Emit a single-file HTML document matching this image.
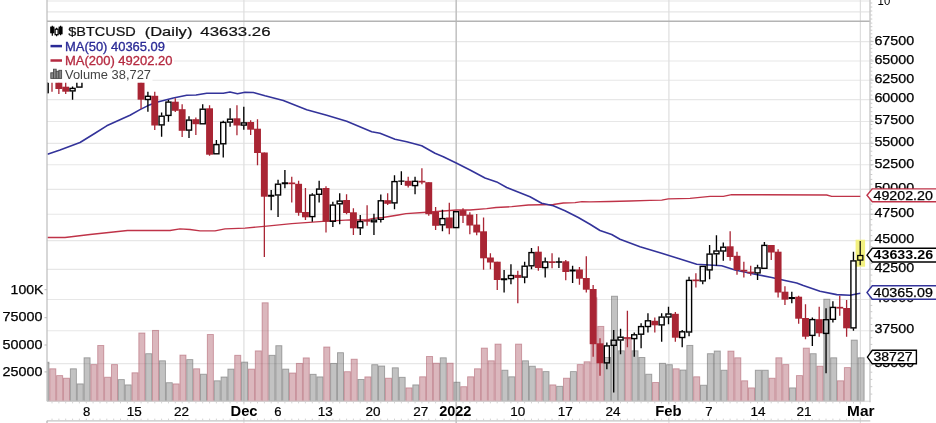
<!DOCTYPE html>
<html><head><meta charset="utf-8"><title>$BTCUSD</title><style>html,body{margin:0;padding:0;background:#fff}body{width:936px;height:423px;overflow:hidden}</style></head><body>
<svg width="936" height="423" viewBox="0 0 936 423" style="display:block;filter:blur(0.3px);font-family:'Liberation Sans',sans-serif">
<defs><clipPath id="cp"><rect x="47" y="82.5" width="823" height="325"/></clipPath><clipPath id="vp"><rect x="47" y="22" width="823" height="380"/></clipPath></defs>
<rect width="936" height="423" fill="#fff"/>
<line x1="47" x2="870.3" y1="1" y2="1" stroke="#e6e6e6" stroke-width="1.2"/>
<line x1="47" x2="870.3" y1="11.8" y2="11.8" stroke="#e6e6e6" stroke-width="1.2"/>
<line x1="47" x2="870.3" y1="41.6" y2="41.6" stroke="#e7e7e7" stroke-width="1.15"/>
<line x1="47" x2="870.3" y1="61.0" y2="61.0" stroke="#e7e7e7" stroke-width="1.15"/>
<line x1="47" x2="870.3" y1="80.2" y2="80.2" stroke="#e7e7e7" stroke-width="1.15"/>
<line x1="47" x2="870.3" y1="99.6" y2="99.6" stroke="#e7e7e7" stroke-width="1.15"/>
<line x1="47" x2="870.3" y1="121.5" y2="121.5" stroke="#e7e7e7" stroke-width="1.15"/>
<line x1="47" x2="870.3" y1="143.3" y2="143.3" stroke="#e7e7e7" stroke-width="1.15"/>
<line x1="47" x2="870.3" y1="164.7" y2="164.7" stroke="#e7e7e7" stroke-width="1.15"/>
<line x1="47" x2="870.3" y1="189.3" y2="189.3" stroke="#e7e7e7" stroke-width="1.15"/>
<line x1="47" x2="870.3" y1="214.2" y2="214.2" stroke="#e7e7e7" stroke-width="1.15"/>
<line x1="47" x2="870.3" y1="240.6" y2="240.6" stroke="#e7e7e7" stroke-width="1.15"/>
<line x1="47" x2="870.3" y1="269.3" y2="269.3" stroke="#e7e7e7" stroke-width="1.15"/>
<line x1="47" x2="870.3" y1="299.5" y2="299.5" stroke="#e7e7e7" stroke-width="1.15"/>
<line x1="47" x2="870.3" y1="330.7" y2="330.7" stroke="#e7e7e7" stroke-width="1.15"/>
<line x1="47" x2="870.3" y1="363.6" y2="363.6" stroke="#e7e7e7" stroke-width="1.15"/>
<line x1="243.9" x2="243.9" y1="0" y2="404.5" stroke="#dedede" stroke-width="1.2"/>
<line x1="243.9" x2="243.9" y1="417.5" y2="423" stroke="#dedede" stroke-width="1.2"/>
<line x1="456.2" x2="456.2" y1="0" y2="423" stroke="#c4c4c4" stroke-width="1.6"/>
<line x1="668.9" x2="668.9" y1="0" y2="404.5" stroke="#dedede" stroke-width="1.2"/>
<line x1="668.9" x2="668.9" y1="417.5" y2="423" stroke="#dedede" stroke-width="1.2"/>
<line x1="860.4" x2="860.4" y1="0" y2="404.5" stroke="#dedede" stroke-width="1.2"/>
<line x1="860.4" x2="860.4" y1="417.5" y2="423" stroke="#dedede" stroke-width="1.2"/>
<g clip-path="url(#vp)">
<rect x="42.93" y="362.2" width="6.05" height="39.0" fill="rgba(125,125,125,0.47)" stroke="rgba(90,90,90,0.5)" stroke-width="0.9"/>
<rect x="49.78" y="368.8" width="6.05" height="32.4" fill="rgba(184,112,124,0.5)" stroke="rgba(165,75,92,0.5)" stroke-width="0.9"/>
<rect x="56.63" y="375.6" width="6.05" height="25.6" fill="rgba(184,112,124,0.5)" stroke="rgba(165,75,92,0.5)" stroke-width="0.9"/>
<rect x="63.48" y="378.2" width="6.05" height="23.0" fill="rgba(184,112,124,0.5)" stroke="rgba(165,75,92,0.5)" stroke-width="0.9"/>
<rect x="70.33" y="368.8" width="6.05" height="32.4" fill="rgba(125,125,125,0.47)" stroke="rgba(90,90,90,0.5)" stroke-width="0.9"/>
<rect x="77.18" y="383.9" width="6.05" height="17.3" fill="rgba(125,125,125,0.47)" stroke="rgba(90,90,90,0.5)" stroke-width="0.9"/>
<rect x="84.03" y="357.8" width="6.05" height="43.4" fill="rgba(125,125,125,0.47)" stroke="rgba(90,90,90,0.5)" stroke-width="0.9"/>
<rect x="90.88" y="364.6" width="6.05" height="36.6" fill="rgba(184,112,124,0.5)" stroke="rgba(165,75,92,0.5)" stroke-width="0.9"/>
<rect x="97.73" y="345.5" width="6.05" height="55.7" fill="rgba(184,112,124,0.5)" stroke="rgba(165,75,92,0.5)" stroke-width="0.9"/>
<rect x="104.58" y="377.2" width="6.05" height="24.0" fill="rgba(184,112,124,0.5)" stroke="rgba(165,75,92,0.5)" stroke-width="0.9"/>
<rect x="111.43" y="364.6" width="6.05" height="36.6" fill="rgba(184,112,124,0.5)" stroke="rgba(165,75,92,0.5)" stroke-width="0.9"/>
<rect x="118.28" y="379.6" width="6.05" height="21.6" fill="rgba(125,125,125,0.47)" stroke="rgba(90,90,90,0.5)" stroke-width="0.9"/>
<rect x="125.13" y="384.9" width="6.05" height="16.3" fill="rgba(125,125,125,0.47)" stroke="rgba(90,90,90,0.5)" stroke-width="0.9"/>
<rect x="131.98" y="372.8" width="6.05" height="28.4" fill="rgba(184,112,124,0.5)" stroke="rgba(165,75,92,0.5)" stroke-width="0.9"/>
<rect x="138.83" y="333.0" width="6.05" height="68.2" fill="rgba(184,112,124,0.5)" stroke="rgba(165,75,92,0.5)" stroke-width="0.9"/>
<rect x="145.68" y="353.7" width="6.05" height="47.5" fill="rgba(125,125,125,0.47)" stroke="rgba(90,90,90,0.5)" stroke-width="0.9"/>
<rect x="152.53" y="330.4" width="6.05" height="70.8" fill="rgba(184,112,124,0.5)" stroke="rgba(165,75,92,0.5)" stroke-width="0.9"/>
<rect x="159.38" y="360.8" width="6.05" height="40.4" fill="rgba(125,125,125,0.47)" stroke="rgba(90,90,90,0.5)" stroke-width="0.9"/>
<rect x="166.23" y="382.7" width="6.05" height="18.5" fill="rgba(125,125,125,0.47)" stroke="rgba(90,90,90,0.5)" stroke-width="0.9"/>
<rect x="173.08" y="383.9" width="6.05" height="17.3" fill="rgba(184,112,124,0.5)" stroke="rgba(165,75,92,0.5)" stroke-width="0.9"/>
<rect x="179.93" y="355.1" width="6.05" height="46.1" fill="rgba(184,112,124,0.5)" stroke="rgba(165,75,92,0.5)" stroke-width="0.9"/>
<rect x="186.78" y="359.6" width="6.05" height="41.6" fill="rgba(125,125,125,0.47)" stroke="rgba(90,90,90,0.5)" stroke-width="0.9"/>
<rect x="193.63" y="368.8" width="6.05" height="32.4" fill="rgba(184,112,124,0.5)" stroke="rgba(165,75,92,0.5)" stroke-width="0.9"/>
<rect x="200.48" y="374.2" width="6.05" height="27.0" fill="rgba(125,125,125,0.47)" stroke="rgba(90,90,90,0.5)" stroke-width="0.9"/>
<rect x="207.33" y="334.5" width="6.05" height="66.7" fill="rgba(184,112,124,0.5)" stroke="rgba(165,75,92,0.5)" stroke-width="0.9"/>
<rect x="214.18" y="380.8" width="6.05" height="20.4" fill="rgba(125,125,125,0.47)" stroke="rgba(90,90,90,0.5)" stroke-width="0.9"/>
<rect x="221.03" y="377.0" width="6.05" height="24.2" fill="rgba(125,125,125,0.47)" stroke="rgba(90,90,90,0.5)" stroke-width="0.9"/>
<rect x="227.88" y="369.1" width="6.05" height="32.1" fill="rgba(125,125,125,0.47)" stroke="rgba(90,90,90,0.5)" stroke-width="0.9"/>
<rect x="234.73" y="355.3" width="6.05" height="45.9" fill="rgba(184,112,124,0.5)" stroke="rgba(165,75,92,0.5)" stroke-width="0.9"/>
<rect x="241.58" y="362.1" width="6.05" height="39.1" fill="rgba(125,125,125,0.47)" stroke="rgba(90,90,90,0.5)" stroke-width="0.9"/>
<rect x="248.43" y="369.1" width="6.05" height="32.1" fill="rgba(184,112,124,0.5)" stroke="rgba(165,75,92,0.5)" stroke-width="0.9"/>
<rect x="255.28" y="350.9" width="6.05" height="50.3" fill="rgba(184,112,124,0.5)" stroke="rgba(165,75,92,0.5)" stroke-width="0.9"/>
<rect x="262.12" y="302.8" width="6.05" height="98.4" fill="rgba(184,112,124,0.5)" stroke="rgba(165,75,92,0.5)" stroke-width="0.9"/>
<rect x="268.97" y="355.3" width="6.05" height="45.9" fill="rgba(125,125,125,0.47)" stroke="rgba(90,90,90,0.5)" stroke-width="0.9"/>
<rect x="275.82" y="345.7" width="6.05" height="55.5" fill="rgba(125,125,125,0.47)" stroke="rgba(90,90,90,0.5)" stroke-width="0.9"/>
<rect x="282.67" y="369.1" width="6.05" height="32.1" fill="rgba(125,125,125,0.47)" stroke="rgba(90,90,90,0.5)" stroke-width="0.9"/>
<rect x="289.52" y="373.0" width="6.05" height="28.2" fill="rgba(184,112,124,0.5)" stroke="rgba(165,75,92,0.5)" stroke-width="0.9"/>
<rect x="296.38" y="363.4" width="6.05" height="37.8" fill="rgba(184,112,124,0.5)" stroke="rgba(165,75,92,0.5)" stroke-width="0.9"/>
<rect x="303.22" y="357.9" width="6.05" height="43.3" fill="rgba(184,112,124,0.5)" stroke="rgba(165,75,92,0.5)" stroke-width="0.9"/>
<rect x="310.07" y="374.3" width="6.05" height="26.9" fill="rgba(125,125,125,0.47)" stroke="rgba(90,90,90,0.5)" stroke-width="0.9"/>
<rect x="316.92" y="376.9" width="6.05" height="24.3" fill="rgba(125,125,125,0.47)" stroke="rgba(90,90,90,0.5)" stroke-width="0.9"/>
<rect x="323.77" y="347.0" width="6.05" height="54.2" fill="rgba(184,112,124,0.5)" stroke="rgba(165,75,92,0.5)" stroke-width="0.9"/>
<rect x="330.62" y="363.4" width="6.05" height="37.8" fill="rgba(125,125,125,0.47)" stroke="rgba(90,90,90,0.5)" stroke-width="0.9"/>
<rect x="337.47" y="352.7" width="6.05" height="48.5" fill="rgba(125,125,125,0.47)" stroke="rgba(90,90,90,0.5)" stroke-width="0.9"/>
<rect x="344.32" y="371.7" width="6.05" height="29.5" fill="rgba(184,112,124,0.5)" stroke="rgba(165,75,92,0.5)" stroke-width="0.9"/>
<rect x="351.17" y="359.2" width="6.05" height="42.0" fill="rgba(184,112,124,0.5)" stroke="rgba(165,75,92,0.5)" stroke-width="0.9"/>
<rect x="358.02" y="379.5" width="6.05" height="21.7" fill="rgba(125,125,125,0.47)" stroke="rgba(90,90,90,0.5)" stroke-width="0.9"/>
<rect x="364.88" y="376.9" width="6.05" height="24.3" fill="rgba(184,112,124,0.5)" stroke="rgba(165,75,92,0.5)" stroke-width="0.9"/>
<rect x="371.73" y="364.7" width="6.05" height="36.5" fill="rgba(125,125,125,0.47)" stroke="rgba(90,90,90,0.5)" stroke-width="0.9"/>
<rect x="378.57" y="366.0" width="6.05" height="35.2" fill="rgba(125,125,125,0.47)" stroke="rgba(90,90,90,0.5)" stroke-width="0.9"/>
<rect x="385.42" y="378.2" width="6.05" height="23.0" fill="rgba(184,112,124,0.5)" stroke="rgba(165,75,92,0.5)" stroke-width="0.9"/>
<rect x="392.27" y="367.8" width="6.05" height="33.4" fill="rgba(125,125,125,0.47)" stroke="rgba(90,90,90,0.5)" stroke-width="0.9"/>
<rect x="399.12" y="377.3" width="6.05" height="23.9" fill="rgba(125,125,125,0.47)" stroke="rgba(90,90,90,0.5)" stroke-width="0.9"/>
<rect x="405.97" y="387.9" width="6.05" height="13.3" fill="rgba(184,112,124,0.5)" stroke="rgba(165,75,92,0.5)" stroke-width="0.9"/>
<rect x="412.82" y="384.9" width="6.05" height="16.3" fill="rgba(125,125,125,0.47)" stroke="rgba(90,90,90,0.5)" stroke-width="0.9"/>
<rect x="419.67" y="376.8" width="6.05" height="24.4" fill="rgba(184,112,124,0.5)" stroke="rgba(165,75,92,0.5)" stroke-width="0.9"/>
<rect x="426.52" y="356.5" width="6.05" height="44.7" fill="rgba(184,112,124,0.5)" stroke="rgba(165,75,92,0.5)" stroke-width="0.9"/>
<rect x="433.38" y="363.2" width="6.05" height="38.0" fill="rgba(184,112,124,0.5)" stroke="rgba(165,75,92,0.5)" stroke-width="0.9"/>
<rect x="440.22" y="357.8" width="6.05" height="43.4" fill="rgba(125,125,125,0.47)" stroke="rgba(90,90,90,0.5)" stroke-width="0.9"/>
<rect x="447.07" y="363.2" width="6.05" height="38.0" fill="rgba(184,112,124,0.5)" stroke="rgba(165,75,92,0.5)" stroke-width="0.9"/>
<rect x="453.92" y="382.2" width="6.05" height="19.0" fill="rgba(125,125,125,0.47)" stroke="rgba(90,90,90,0.5)" stroke-width="0.9"/>
<rect x="460.77" y="386.7" width="6.05" height="14.5" fill="rgba(184,112,124,0.5)" stroke="rgba(165,75,92,0.5)" stroke-width="0.9"/>
<rect x="467.62" y="376.8" width="6.05" height="24.4" fill="rgba(184,112,124,0.5)" stroke="rgba(165,75,92,0.5)" stroke-width="0.9"/>
<rect x="474.47" y="368.8" width="6.05" height="32.4" fill="rgba(184,112,124,0.5)" stroke="rgba(165,75,92,0.5)" stroke-width="0.9"/>
<rect x="481.32" y="348.1" width="6.05" height="53.1" fill="rgba(184,112,124,0.5)" stroke="rgba(165,75,92,0.5)" stroke-width="0.9"/>
<rect x="488.17" y="360.8" width="6.05" height="40.4" fill="rgba(184,112,124,0.5)" stroke="rgba(165,75,92,0.5)" stroke-width="0.9"/>
<rect x="495.02" y="344.1" width="6.05" height="57.1" fill="rgba(184,112,124,0.5)" stroke="rgba(165,75,92,0.5)" stroke-width="0.9"/>
<rect x="501.88" y="370.2" width="6.05" height="31.0" fill="rgba(125,125,125,0.47)" stroke="rgba(90,90,90,0.5)" stroke-width="0.9"/>
<rect x="508.72" y="376.8" width="6.05" height="24.4" fill="rgba(125,125,125,0.47)" stroke="rgba(90,90,90,0.5)" stroke-width="0.9"/>
<rect x="515.57" y="344.1" width="6.05" height="57.1" fill="rgba(184,112,124,0.5)" stroke="rgba(165,75,92,0.5)" stroke-width="0.9"/>
<rect x="522.42" y="360.8" width="6.05" height="40.4" fill="rgba(125,125,125,0.47)" stroke="rgba(90,90,90,0.5)" stroke-width="0.9"/>
<rect x="529.27" y="366.2" width="6.05" height="35.0" fill="rgba(125,125,125,0.47)" stroke="rgba(90,90,90,0.5)" stroke-width="0.9"/>
<rect x="536.12" y="368.8" width="6.05" height="32.4" fill="rgba(184,112,124,0.5)" stroke="rgba(165,75,92,0.5)" stroke-width="0.9"/>
<rect x="542.98" y="371.6" width="6.05" height="29.6" fill="rgba(125,125,125,0.47)" stroke="rgba(90,90,90,0.5)" stroke-width="0.9"/>
<rect x="549.82" y="384.9" width="6.05" height="16.3" fill="rgba(184,112,124,0.5)" stroke="rgba(165,75,92,0.5)" stroke-width="0.9"/>
<rect x="556.67" y="386.3" width="6.05" height="14.9" fill="rgba(125,125,125,0.47)" stroke="rgba(90,90,90,0.5)" stroke-width="0.9"/>
<rect x="563.52" y="378.2" width="6.05" height="23.0" fill="rgba(184,112,124,0.5)" stroke="rgba(165,75,92,0.5)" stroke-width="0.9"/>
<rect x="570.37" y="371.6" width="6.05" height="29.6" fill="rgba(125,125,125,0.47)" stroke="rgba(90,90,90,0.5)" stroke-width="0.9"/>
<rect x="577.23" y="364.6" width="6.05" height="36.6" fill="rgba(184,112,124,0.5)" stroke="rgba(165,75,92,0.5)" stroke-width="0.9"/>
<rect x="584.07" y="361.8" width="6.05" height="39.4" fill="rgba(184,112,124,0.5)" stroke="rgba(165,75,92,0.5)" stroke-width="0.9"/>
<rect x="590.92" y="297.8" width="6.05" height="103.4" fill="rgba(184,112,124,0.5)" stroke="rgba(165,75,92,0.5)" stroke-width="0.9"/>
<rect x="597.77" y="326.4" width="6.05" height="74.8" fill="rgba(184,112,124,0.5)" stroke="rgba(165,75,92,0.5)" stroke-width="0.9"/>
<rect x="604.62" y="357.5" width="6.05" height="43.7" fill="rgba(125,125,125,0.47)" stroke="rgba(90,90,90,0.5)" stroke-width="0.9"/>
<rect x="611.48" y="296.2" width="6.05" height="105.0" fill="rgba(125,125,125,0.47)" stroke="rgba(90,90,90,0.5)" stroke-width="0.9"/>
<rect x="618.32" y="350.8" width="6.05" height="50.4" fill="rgba(125,125,125,0.47)" stroke="rgba(90,90,90,0.5)" stroke-width="0.9"/>
<rect x="625.17" y="339.0" width="6.05" height="62.2" fill="rgba(184,112,124,0.5)" stroke="rgba(165,75,92,0.5)" stroke-width="0.9"/>
<rect x="632.02" y="350.8" width="6.05" height="50.4" fill="rgba(125,125,125,0.47)" stroke="rgba(90,90,90,0.5)" stroke-width="0.9"/>
<rect x="638.87" y="357.5" width="6.05" height="43.7" fill="rgba(125,125,125,0.47)" stroke="rgba(90,90,90,0.5)" stroke-width="0.9"/>
<rect x="645.73" y="374.2" width="6.05" height="27.0" fill="rgba(125,125,125,0.47)" stroke="rgba(90,90,90,0.5)" stroke-width="0.9"/>
<rect x="652.57" y="382.5" width="6.05" height="18.7" fill="rgba(184,112,124,0.5)" stroke="rgba(165,75,92,0.5)" stroke-width="0.9"/>
<rect x="659.42" y="363.3" width="6.05" height="37.9" fill="rgba(125,125,125,0.47)" stroke="rgba(90,90,90,0.5)" stroke-width="0.9"/>
<rect x="666.27" y="364.7" width="6.05" height="36.5" fill="rgba(125,125,125,0.47)" stroke="rgba(90,90,90,0.5)" stroke-width="0.9"/>
<rect x="673.12" y="368.8" width="6.05" height="32.4" fill="rgba(184,112,124,0.5)" stroke="rgba(165,75,92,0.5)" stroke-width="0.9"/>
<rect x="679.98" y="370.0" width="6.05" height="31.2" fill="rgba(125,125,125,0.47)" stroke="rgba(90,90,90,0.5)" stroke-width="0.9"/>
<rect x="686.82" y="345.4" width="6.05" height="55.8" fill="rgba(125,125,125,0.47)" stroke="rgba(90,90,90,0.5)" stroke-width="0.9"/>
<rect x="693.67" y="376.8" width="6.05" height="24.4" fill="rgba(184,112,124,0.5)" stroke="rgba(165,75,92,0.5)" stroke-width="0.9"/>
<rect x="700.52" y="385.2" width="6.05" height="16.0" fill="rgba(125,125,125,0.47)" stroke="rgba(90,90,90,0.5)" stroke-width="0.9"/>
<rect x="707.37" y="353.7" width="6.05" height="47.5" fill="rgba(125,125,125,0.47)" stroke="rgba(90,90,90,0.5)" stroke-width="0.9"/>
<rect x="714.23" y="351.0" width="6.05" height="50.2" fill="rgba(125,125,125,0.47)" stroke="rgba(90,90,90,0.5)" stroke-width="0.9"/>
<rect x="721.07" y="370.2" width="6.05" height="31.0" fill="rgba(125,125,125,0.47)" stroke="rgba(90,90,90,0.5)" stroke-width="0.9"/>
<rect x="727.92" y="351.1" width="6.05" height="50.1" fill="rgba(184,112,124,0.5)" stroke="rgba(165,75,92,0.5)" stroke-width="0.9"/>
<rect x="734.77" y="357.8" width="6.05" height="43.4" fill="rgba(184,112,124,0.5)" stroke="rgba(165,75,92,0.5)" stroke-width="0.9"/>
<rect x="741.62" y="380.8" width="6.05" height="20.4" fill="rgba(184,112,124,0.5)" stroke="rgba(165,75,92,0.5)" stroke-width="0.9"/>
<rect x="748.48" y="387.9" width="6.05" height="13.3" fill="rgba(184,112,124,0.5)" stroke="rgba(165,75,92,0.5)" stroke-width="0.9"/>
<rect x="755.32" y="370.2" width="6.05" height="31.0" fill="rgba(125,125,125,0.47)" stroke="rgba(90,90,90,0.5)" stroke-width="0.9"/>
<rect x="762.18" y="370.2" width="6.05" height="31.0" fill="rgba(125,125,125,0.47)" stroke="rgba(90,90,90,0.5)" stroke-width="0.9"/>
<rect x="769.02" y="378.2" width="6.05" height="23.0" fill="rgba(184,112,124,0.5)" stroke="rgba(165,75,92,0.5)" stroke-width="0.9"/>
<rect x="775.87" y="357.8" width="6.05" height="43.4" fill="rgba(184,112,124,0.5)" stroke="rgba(165,75,92,0.5)" stroke-width="0.9"/>
<rect x="782.73" y="364.6" width="6.05" height="36.6" fill="rgba(184,112,124,0.5)" stroke="rgba(165,75,92,0.5)" stroke-width="0.9"/>
<rect x="789.57" y="387.9" width="6.05" height="13.3" fill="rgba(125,125,125,0.47)" stroke="rgba(90,90,90,0.5)" stroke-width="0.9"/>
<rect x="796.43" y="375.6" width="6.05" height="25.6" fill="rgba(184,112,124,0.5)" stroke="rgba(165,75,92,0.5)" stroke-width="0.9"/>
<rect x="803.27" y="348.1" width="6.05" height="53.1" fill="rgba(184,112,124,0.5)" stroke="rgba(165,75,92,0.5)" stroke-width="0.9"/>
<rect x="810.12" y="353.7" width="6.05" height="47.5" fill="rgba(125,125,125,0.47)" stroke="rgba(90,90,90,0.5)" stroke-width="0.9"/>
<rect x="816.98" y="366.2" width="6.05" height="35.0" fill="rgba(184,112,124,0.5)" stroke="rgba(165,75,92,0.5)" stroke-width="0.9"/>
<rect x="823.82" y="299.2" width="6.05" height="102.0" fill="rgba(125,125,125,0.47)" stroke="rgba(90,90,90,0.5)" stroke-width="0.9"/>
<rect x="830.68" y="357.8" width="6.05" height="43.4" fill="rgba(125,125,125,0.47)" stroke="rgba(90,90,90,0.5)" stroke-width="0.9"/>
<rect x="837.52" y="380.8" width="6.05" height="20.4" fill="rgba(184,112,124,0.5)" stroke="rgba(165,75,92,0.5)" stroke-width="0.9"/>
<rect x="844.37" y="367.6" width="6.05" height="33.6" fill="rgba(184,112,124,0.5)" stroke="rgba(165,75,92,0.5)" stroke-width="0.9"/>
<rect x="851.23" y="340.1" width="6.05" height="61.1" fill="rgba(125,125,125,0.47)" stroke="rgba(90,90,90,0.5)" stroke-width="0.9"/>
<rect x="858.07" y="357.8" width="6.05" height="43.4" fill="rgba(125,125,125,0.47)" stroke="rgba(90,90,90,0.5)" stroke-width="0.9"/>
</g>
<polyline fill="none" stroke="#bf3348" stroke-width="1.35" stroke-linejoin="round" points="47.5,237.5 65.0,237.5 90.0,234.5 127.5,230.5 170.0,230.5 180.0,228.8 190.0,229.5 200.0,230.8 215.0,230.8 225.0,228.8 245.0,228.2 266.7,226.1 291.7,223.6 323.0,221.4 350.0,219.8 366.7,220.0 373.3,218.3 383.0,217.5 398.3,215.0 406.0,213.7 423.3,212.5 456.7,210.0 470.0,210.0 486.7,208.7 496.0,207.5 511.7,206.7 528.3,205.0 553.3,204.5 563.3,203.0 575.0,202.6 582.0,201.6 590.0,201.9 610.0,201.5 630.0,201.0 650.0,200.3 661.7,200.1 668.3,198.9 690.0,198.3 710.0,196.3 723.3,196.3 731.7,194.7 746.0,194.7 826.7,195.0 831.7,196.3 860.3,196.3"/>
<polyline fill="none" stroke="#33339a" stroke-width="1.6" stroke-linejoin="round" points="47.5,154.2 60.0,150.0 80.0,142.5 95.0,133.3 106.7,125.8 123.3,118.2 130.0,115.2 140.0,109.6 148.0,105.6 156.7,102.3 173.3,98.0 186.7,95.3 196.0,95.0 206.7,93.3 223.3,93.3 230.0,92.0 237.5,93.7 245.0,92.2 253.3,92.5 265.0,95.8 283.3,100.5 306.7,109.7 326.7,115.3 346.7,121.3 371.7,131.7 380.0,133.3 395.0,139.2 406.7,141.7 421.7,145.8 435.0,153.3 443.3,156.7 456.7,163.3 470.0,170.0 485.0,178.0 496.7,181.9 506.7,187.5 530.0,196.7 541.7,203.3 553.3,205.8 565.0,210.8 578.3,217.5 590.0,224.2 600.0,230.5 611.7,234.5 620.0,239.2 640.0,246.7 661.7,253.3 681.7,259.5 696.7,264.2 721.7,265.8 735.0,270.0 755.0,274.2 771.7,277.5 785.0,280.5 796.7,283.0 803.3,285.5 820.0,291.2 836.7,294.6 850.0,295.3 860.3,293.3"/>
<rect x="855.6" y="239.7" width="9.5" height="27" fill="#f3f180"/>
<g clip-path="url(#cp)">
<line x1="45.15" x2="45.15" y1="70" y2="70" stroke="#000" stroke-width="1.35"/>
<line x1="45.15" x2="45.15" y1="93" y2="93" stroke="#000" stroke-width="1.35"/>
<rect x="42.60" y="70.4" width="5.10" height="22.2" fill="none" stroke="#000" stroke-width="1.4"/>
<line x1="52.00" x2="52.00" y1="70" y2="91.7" stroke="#a92534" stroke-width="1.3"/>
<rect x="48.55" y="70.00" width="6.90" height="10.0" fill="#a92534"/>
<line x1="58.85" x2="58.85" y1="70" y2="94" stroke="#a92534" stroke-width="1.3"/>
<rect x="55.40" y="70.00" width="6.90" height="19.0" fill="#a92534"/>
<line x1="65.70" x2="65.70" y1="75" y2="94" stroke="#a92534" stroke-width="1.3"/>
<rect x="62.25" y="86.70" width="6.90" height="5.0" fill="#a92534"/>
<line x1="72.55" x2="72.55" y1="86.5" y2="88" stroke="#000" stroke-width="1.35"/>
<line x1="72.55" x2="72.55" y1="91.3" y2="99.7" stroke="#000" stroke-width="1.35"/>
<rect x="70.00" y="88.4" width="5.10" height="2.5" fill="none" stroke="#000" stroke-width="1.4"/>
<line x1="79.40" x2="79.40" y1="70" y2="70" stroke="#000" stroke-width="1.35"/>
<line x1="79.40" x2="79.40" y1="87.5" y2="87.5" stroke="#000" stroke-width="1.35"/>
<rect x="76.85" y="70.4" width="5.10" height="16.7" fill="none" stroke="#000" stroke-width="1.4"/>
<line x1="141.05" x2="141.05" y1="70" y2="109" stroke="#a92534" stroke-width="1.3"/>
<rect x="137.60" y="70.00" width="6.90" height="29.7" fill="#a92534"/>
<line x1="147.90" x2="147.90" y1="91.7" y2="95.9" stroke="#000" stroke-width="1.35"/>
<line x1="147.90" x2="147.90" y1="99.9" y2="111.7" stroke="#000" stroke-width="1.35"/>
<rect x="145.35" y="96.3" width="5.10" height="3.2" fill="none" stroke="#000" stroke-width="1.4"/>
<line x1="154.75" x2="154.75" y1="91.7" y2="130" stroke="#a92534" stroke-width="1.3"/>
<rect x="151.30" y="95.80" width="6.90" height="29.7" fill="#a92534"/>
<line x1="161.60" x2="161.60" y1="112.5" y2="115.8" stroke="#000" stroke-width="1.35"/>
<line x1="161.60" x2="161.60" y1="125.3" y2="136.7" stroke="#000" stroke-width="1.35"/>
<rect x="159.05" y="116.2" width="5.10" height="8.7" fill="none" stroke="#000" stroke-width="1.4"/>
<line x1="168.45" x2="168.45" y1="100" y2="101.7" stroke="#000" stroke-width="1.35"/>
<line x1="168.45" x2="168.45" y1="115.8" y2="121.7" stroke="#000" stroke-width="1.35"/>
<rect x="165.90" y="102.1" width="5.10" height="13.3" fill="none" stroke="#000" stroke-width="1.4"/>
<line x1="175.30" x2="175.30" y1="98.3" y2="112" stroke="#a92534" stroke-width="1.3"/>
<rect x="171.85" y="101.70" width="6.90" height="9.1" fill="#a92534"/>
<line x1="182.15" x2="182.15" y1="104.2" y2="137" stroke="#a92534" stroke-width="1.3"/>
<rect x="178.70" y="109.20" width="6.90" height="21.6" fill="#a92534"/>
<line x1="189.00" x2="189.00" y1="116.3" y2="119.7" stroke="#000" stroke-width="1.35"/>
<line x1="189.00" x2="189.00" y1="130.5" y2="138" stroke="#000" stroke-width="1.35"/>
<rect x="186.45" y="120.1" width="5.10" height="10.0" fill="none" stroke="#000" stroke-width="1.4"/>
<line x1="195.85" x2="195.85" y1="117.5" y2="135" stroke="#a92534" stroke-width="1.3"/>
<rect x="192.40" y="119.20" width="6.90" height="5.0" fill="#a92534"/>
<line x1="202.70" x2="202.70" y1="104.2" y2="108.8" stroke="#000" stroke-width="1.35"/>
<line x1="202.70" x2="202.70" y1="124.2" y2="124.2" stroke="#000" stroke-width="1.35"/>
<rect x="200.15" y="109.2" width="5.10" height="14.6" fill="none" stroke="#000" stroke-width="1.4"/>
<line x1="209.55" x2="209.55" y1="105.3" y2="155.8" stroke="#a92534" stroke-width="1.3"/>
<rect x="206.10" y="108.30" width="6.90" height="46.4" fill="#a92534"/>
<line x1="216.40" x2="216.40" y1="140" y2="144.2" stroke="#000" stroke-width="1.35"/>
<line x1="216.40" x2="216.40" y1="154.2" y2="154.2" stroke="#000" stroke-width="1.35"/>
<rect x="213.85" y="144.6" width="5.10" height="9.2" fill="none" stroke="#000" stroke-width="1.4"/>
<line x1="223.25" x2="223.25" y1="120.8" y2="122" stroke="#000" stroke-width="1.35"/>
<line x1="223.25" x2="223.25" y1="144.2" y2="157.5" stroke="#000" stroke-width="1.35"/>
<rect x="220.70" y="122.4" width="5.10" height="21.4" fill="none" stroke="#000" stroke-width="1.4"/>
<line x1="230.10" x2="230.10" y1="108.3" y2="118.8" stroke="#000" stroke-width="1.35"/>
<line x1="230.10" x2="230.10" y1="122.5" y2="126.7" stroke="#000" stroke-width="1.35"/>
<rect x="227.55" y="119.2" width="5.10" height="2.9" fill="none" stroke="#000" stroke-width="1.4"/>
<line x1="236.95" x2="236.95" y1="105.3" y2="135.3" stroke="#a92534" stroke-width="1.3"/>
<rect x="233.50" y="118.30" width="6.90" height="7.2" fill="#a92534"/>
<line x1="243.80" x2="243.80" y1="106.7" y2="122.5" stroke="#000" stroke-width="1.35"/>
<line x1="243.80" x2="243.80" y1="125.5" y2="129.7" stroke="#000" stroke-width="1.35"/>
<rect x="241.25" y="122.9" width="5.10" height="2.2" fill="none" stroke="#000" stroke-width="1.4"/>
<line x1="250.65" x2="250.65" y1="120.3" y2="135" stroke="#a92534" stroke-width="1.3"/>
<rect x="247.20" y="122.00" width="6.90" height="7.7" fill="#a92534"/>
<line x1="257.50" x2="257.50" y1="119.2" y2="165.3" stroke="#a92534" stroke-width="1.3"/>
<rect x="254.05" y="128.70" width="6.90" height="24.3" fill="#a92534"/>
<line x1="264.35" x2="264.35" y1="152.5" y2="257" stroke="#a92534" stroke-width="1.3"/>
<rect x="260.90" y="152.50" width="6.90" height="44.2" fill="#a92534"/>
<line x1="271.20" x2="271.20" y1="190" y2="210.3" stroke="#000" stroke-width="1.35"/>
<line x1="268.05" x2="274.35" y1="195.7" y2="195.7" stroke="#000" stroke-width="2.1"/>
<line x1="278.05" x2="278.05" y1="179.7" y2="183.8" stroke="#000" stroke-width="1.35"/>
<line x1="278.05" x2="278.05" y1="195.4" y2="217" stroke="#000" stroke-width="1.35"/>
<rect x="275.50" y="184.2" width="5.10" height="10.8" fill="none" stroke="#000" stroke-width="1.4"/>
<line x1="284.90" x2="284.90" y1="170" y2="188.3" stroke="#000" stroke-width="1.35"/>
<line x1="281.75" x2="288.05" y1="183.3" y2="183.3" stroke="#000" stroke-width="2.1"/>
<line x1="291.75" x2="291.75" y1="176.7" y2="202.5" stroke="#a92534" stroke-width="1.3"/>
<rect x="288.30" y="182.50" width="6.90" height="1.7" fill="#a92534"/>
<line x1="298.60" x2="298.60" y1="180.8" y2="215.8" stroke="#a92534" stroke-width="1.3"/>
<rect x="295.15" y="183.80" width="6.90" height="29.0" fill="#a92534"/>
<line x1="305.45" x2="305.45" y1="188" y2="220" stroke="#a92534" stroke-width="1.3"/>
<rect x="302.00" y="212.00" width="6.90" height="5.3" fill="#a92534"/>
<line x1="312.30" x2="312.30" y1="193.3" y2="194.7" stroke="#000" stroke-width="1.35"/>
<line x1="312.30" x2="312.30" y1="217" y2="221.7" stroke="#000" stroke-width="1.35"/>
<rect x="309.75" y="195.1" width="5.10" height="21.5" fill="none" stroke="#000" stroke-width="1.4"/>
<line x1="319.15" x2="319.15" y1="180.8" y2="188.7" stroke="#000" stroke-width="1.35"/>
<line x1="319.15" x2="319.15" y1="194.7" y2="202.5" stroke="#000" stroke-width="1.35"/>
<rect x="316.60" y="189.1" width="5.10" height="5.2" fill="none" stroke="#000" stroke-width="1.4"/>
<line x1="326.00" x2="326.00" y1="186.3" y2="232.5" stroke="#a92534" stroke-width="1.3"/>
<rect x="322.55" y="188.00" width="6.90" height="33.7" fill="#a92534"/>
<line x1="332.85" x2="332.85" y1="201.7" y2="204.7" stroke="#000" stroke-width="1.35"/>
<line x1="332.85" x2="332.85" y1="221.7" y2="227" stroke="#000" stroke-width="1.35"/>
<rect x="330.30" y="205.1" width="5.10" height="16.2" fill="none" stroke="#000" stroke-width="1.4"/>
<line x1="339.70" x2="339.70" y1="193.3" y2="200.7" stroke="#000" stroke-width="1.35"/>
<line x1="339.70" x2="339.70" y1="204.2" y2="224.2" stroke="#000" stroke-width="1.35"/>
<rect x="337.15" y="201.1" width="5.10" height="2.7" fill="none" stroke="#000" stroke-width="1.4"/>
<line x1="346.55" x2="346.55" y1="194.2" y2="214.2" stroke="#a92534" stroke-width="1.3"/>
<rect x="343.10" y="200.00" width="6.90" height="13.0" fill="#a92534"/>
<line x1="353.40" x2="353.40" y1="208.3" y2="235" stroke="#a92534" stroke-width="1.3"/>
<rect x="349.95" y="212.30" width="6.90" height="16.0" fill="#a92534"/>
<line x1="360.25" x2="360.25" y1="215" y2="221.2" stroke="#000" stroke-width="1.35"/>
<line x1="360.25" x2="360.25" y1="228.2" y2="235" stroke="#000" stroke-width="1.35"/>
<rect x="357.70" y="221.6" width="5.10" height="6.2" fill="none" stroke="#000" stroke-width="1.4"/>
<line x1="367.10" x2="367.10" y1="205.2" y2="225.8" stroke="#a92534" stroke-width="1.3"/>
<rect x="363.65" y="220.00" width="6.90" height="1.7" fill="#a92534"/>
<line x1="373.95" x2="373.95" y1="213.7" y2="219.7" stroke="#000" stroke-width="1.35"/>
<line x1="373.95" x2="373.95" y1="222.2" y2="235" stroke="#000" stroke-width="1.35"/>
<rect x="371.40" y="220.1" width="5.10" height="1.7" fill="none" stroke="#000" stroke-width="1.4"/>
<line x1="380.80" x2="380.80" y1="194.5" y2="200.4" stroke="#000" stroke-width="1.35"/>
<line x1="380.80" x2="380.80" y1="219.7" y2="222.5" stroke="#000" stroke-width="1.35"/>
<rect x="378.25" y="200.8" width="5.10" height="18.5" fill="none" stroke="#000" stroke-width="1.4"/>
<line x1="387.65" x2="387.65" y1="193.3" y2="205" stroke="#a92534" stroke-width="1.3"/>
<rect x="384.20" y="200.20" width="6.90" height="3.6" fill="#a92534"/>
<line x1="394.50" x2="394.50" y1="175.3" y2="181.2" stroke="#000" stroke-width="1.35"/>
<line x1="394.50" x2="394.50" y1="203.3" y2="209.2" stroke="#000" stroke-width="1.35"/>
<rect x="391.95" y="181.6" width="5.10" height="21.3" fill="none" stroke="#000" stroke-width="1.4"/>
<line x1="401.35" x2="401.35" y1="171.3" y2="185" stroke="#000" stroke-width="1.35"/>
<line x1="398.20" x2="404.50" y1="181.2" y2="181.2" stroke="#000" stroke-width="1.3"/>
<line x1="408.20" x2="408.20" y1="176.7" y2="187.5" stroke="#a92534" stroke-width="1.3"/>
<rect x="404.75" y="180.80" width="6.90" height="5.0" fill="#a92534"/>
<line x1="415.05" x2="415.05" y1="176.7" y2="180.9" stroke="#000" stroke-width="1.35"/>
<line x1="415.05" x2="415.05" y1="186" y2="194.2" stroke="#000" stroke-width="1.35"/>
<rect x="412.50" y="181.3" width="5.10" height="4.3" fill="none" stroke="#000" stroke-width="1.4"/>
<line x1="421.90" x2="421.90" y1="168.3" y2="184.2" stroke="#a92534" stroke-width="1.3"/>
<rect x="418.45" y="180.80" width="6.90" height="1.7" fill="#a92534"/>
<line x1="428.75" x2="428.75" y1="182.2" y2="215.8" stroke="#a92534" stroke-width="1.3"/>
<rect x="425.30" y="182.20" width="6.90" height="32.0" fill="#a92534"/>
<line x1="435.60" x2="435.60" y1="207" y2="230" stroke="#a92534" stroke-width="1.3"/>
<rect x="432.15" y="212.00" width="6.90" height="13.8" fill="#a92534"/>
<line x1="442.45" x2="442.45" y1="209.8" y2="218.2" stroke="#000" stroke-width="1.35"/>
<line x1="442.45" x2="442.45" y1="225.2" y2="231.3" stroke="#000" stroke-width="1.35"/>
<rect x="439.90" y="218.6" width="5.10" height="6.2" fill="none" stroke="#000" stroke-width="1.4"/>
<line x1="449.30" x2="449.30" y1="202.7" y2="234.2" stroke="#a92534" stroke-width="1.3"/>
<rect x="445.85" y="217.50" width="6.90" height="10.8" fill="#a92534"/>
<line x1="456.15" x2="456.15" y1="211.3" y2="211.3" stroke="#000" stroke-width="1.35"/>
<line x1="456.15" x2="456.15" y1="228" y2="228" stroke="#000" stroke-width="1.35"/>
<rect x="453.60" y="211.7" width="5.10" height="15.9" fill="none" stroke="#000" stroke-width="1.4"/>
<line x1="463.00" x2="463.00" y1="208.3" y2="223" stroke="#a92534" stroke-width="1.3"/>
<rect x="459.55" y="210.20" width="6.90" height="5.6" fill="#a92534"/>
<line x1="469.85" x2="469.85" y1="212.2" y2="234.2" stroke="#a92534" stroke-width="1.3"/>
<rect x="466.40" y="214.60" width="6.90" height="10.9" fill="#a92534"/>
<line x1="476.70" x2="476.70" y1="213.9" y2="235.3" stroke="#a92534" stroke-width="1.3"/>
<rect x="473.25" y="224.60" width="6.90" height="7.9" fill="#a92534"/>
<line x1="483.55" x2="483.55" y1="217.5" y2="269.7" stroke="#a92534" stroke-width="1.3"/>
<rect x="480.10" y="231.30" width="6.90" height="27.0" fill="#a92534"/>
<line x1="490.40" x2="490.40" y1="253.3" y2="269.2" stroke="#a92534" stroke-width="1.3"/>
<rect x="486.95" y="257.50" width="6.90" height="5.0" fill="#a92534"/>
<line x1="497.25" x2="497.25" y1="261.7" y2="290" stroke="#a92534" stroke-width="1.3"/>
<rect x="493.80" y="261.70" width="6.90" height="18.3" fill="#a92534"/>
<line x1="504.10" x2="504.10" y1="270" y2="292.5" stroke="#000" stroke-width="1.35"/>
<line x1="500.95" x2="507.25" y1="279.2" y2="279.2" stroke="#000" stroke-width="2.1"/>
<line x1="510.95" x2="510.95" y1="264.2" y2="275.1" stroke="#000" stroke-width="1.35"/>
<line x1="510.95" x2="510.95" y1="279" y2="284.2" stroke="#000" stroke-width="1.35"/>
<rect x="508.40" y="275.5" width="5.10" height="3.1" fill="none" stroke="#000" stroke-width="1.4"/>
<line x1="517.80" x2="517.80" y1="270.8" y2="303.3" stroke="#a92534" stroke-width="1.3"/>
<rect x="514.35" y="274.90" width="6.90" height="3.0" fill="#a92534"/>
<line x1="524.65" x2="524.65" y1="261.7" y2="265.8" stroke="#000" stroke-width="1.35"/>
<line x1="524.65" x2="524.65" y1="277.5" y2="283.3" stroke="#000" stroke-width="1.35"/>
<rect x="522.10" y="266.2" width="5.10" height="10.9" fill="none" stroke="#000" stroke-width="1.4"/>
<line x1="531.50" x2="531.50" y1="248" y2="252.2" stroke="#000" stroke-width="1.35"/>
<line x1="531.50" x2="531.50" y1="266.2" y2="269.2" stroke="#000" stroke-width="1.35"/>
<rect x="528.95" y="252.6" width="5.10" height="13.2" fill="none" stroke="#000" stroke-width="1.4"/>
<line x1="538.35" x2="538.35" y1="246.3" y2="270.8" stroke="#a92534" stroke-width="1.3"/>
<rect x="534.90" y="251.70" width="6.90" height="16.3" fill="#a92534"/>
<line x1="545.20" x2="545.20" y1="257.5" y2="261.5" stroke="#000" stroke-width="1.35"/>
<line x1="545.20" x2="545.20" y1="268" y2="277.5" stroke="#000" stroke-width="1.35"/>
<rect x="542.65" y="261.9" width="5.10" height="5.7" fill="none" stroke="#000" stroke-width="1.4"/>
<line x1="552.05" x2="552.05" y1="253.3" y2="268.3" stroke="#a92534" stroke-width="1.3"/>
<rect x="548.60" y="261.30" width="6.90" height="1.7" fill="#a92534"/>
<line x1="558.90" x2="558.90" y1="257.5" y2="268" stroke="#000" stroke-width="1.35"/>
<line x1="555.75" x2="562.05" y1="262.0" y2="262.0" stroke="#000" stroke-width="1.3"/>
<line x1="565.75" x2="565.75" y1="260" y2="280.3" stroke="#a92534" stroke-width="1.3"/>
<rect x="562.30" y="261.30" width="6.90" height="10.7" fill="#a92534"/>
<line x1="572.60" x2="572.60" y1="265.8" y2="283" stroke="#000" stroke-width="1.35"/>
<line x1="569.45" x2="575.75" y1="270.5" y2="270.5" stroke="#000" stroke-width="2.1"/>
<line x1="579.45" x2="579.45" y1="267" y2="284.7" stroke="#a92534" stroke-width="1.3"/>
<rect x="576.00" y="269.50" width="6.90" height="9.2" fill="#a92534"/>
<line x1="586.30" x2="586.30" y1="256.2" y2="292.5" stroke="#a92534" stroke-width="1.3"/>
<rect x="582.85" y="278.00" width="6.90" height="11.7" fill="#a92534"/>
<line x1="593.15" x2="593.15" y1="285" y2="356.7" stroke="#a92534" stroke-width="1.3"/>
<rect x="589.70" y="289.00" width="6.90" height="55.2" fill="#a92534"/>
<line x1="600.00" x2="600.00" y1="338.3" y2="375.8" stroke="#a92534" stroke-width="1.3"/>
<rect x="596.55" y="343.30" width="6.90" height="20.0" fill="#a92534"/>
<line x1="606.85" x2="606.85" y1="342.5" y2="345.5" stroke="#000" stroke-width="1.35"/>
<line x1="606.85" x2="606.85" y1="363.3" y2="369.2" stroke="#000" stroke-width="1.35"/>
<rect x="604.30" y="345.9" width="5.10" height="17.0" fill="none" stroke="#000" stroke-width="1.4"/>
<line x1="613.70" x2="613.70" y1="330" y2="339.8" stroke="#000" stroke-width="1.35"/>
<line x1="613.70" x2="613.70" y1="345.7" y2="392.5" stroke="#000" stroke-width="1.35"/>
<rect x="611.15" y="340.2" width="5.10" height="5.1" fill="none" stroke="#000" stroke-width="1.4"/>
<line x1="620.55" x2="620.55" y1="328.7" y2="336.8" stroke="#000" stroke-width="1.35"/>
<line x1="620.55" x2="620.55" y1="340.4" y2="354.2" stroke="#000" stroke-width="1.35"/>
<rect x="618.00" y="337.2" width="5.10" height="2.8" fill="none" stroke="#000" stroke-width="1.4"/>
<line x1="627.40" x2="627.40" y1="310.8" y2="347.2" stroke="#a92534" stroke-width="1.3"/>
<rect x="623.95" y="337.15" width="6.90" height="1.7" fill="#a92534"/>
<line x1="634.25" x2="634.25" y1="332.5" y2="334.4" stroke="#000" stroke-width="1.35"/>
<line x1="634.25" x2="634.25" y1="339" y2="356.7" stroke="#000" stroke-width="1.35"/>
<rect x="631.70" y="334.8" width="5.10" height="3.8" fill="none" stroke="#000" stroke-width="1.4"/>
<line x1="641.10" x2="641.10" y1="323.3" y2="326.2" stroke="#000" stroke-width="1.35"/>
<line x1="641.10" x2="641.10" y1="334.6" y2="348.3" stroke="#000" stroke-width="1.35"/>
<rect x="638.55" y="326.6" width="5.10" height="7.6" fill="none" stroke="#000" stroke-width="1.4"/>
<line x1="647.95" x2="647.95" y1="313.3" y2="320.4" stroke="#000" stroke-width="1.35"/>
<line x1="647.95" x2="647.95" y1="326.9" y2="332.5" stroke="#000" stroke-width="1.35"/>
<rect x="645.40" y="320.8" width="5.10" height="5.7" fill="none" stroke="#000" stroke-width="1.4"/>
<line x1="654.80" x2="654.80" y1="317.5" y2="332.5" stroke="#a92534" stroke-width="1.3"/>
<rect x="651.35" y="320.80" width="6.90" height="4.5" fill="#a92534"/>
<line x1="661.65" x2="661.65" y1="313.3" y2="316.7" stroke="#000" stroke-width="1.35"/>
<line x1="661.65" x2="661.65" y1="325.3" y2="341.7" stroke="#000" stroke-width="1.35"/>
<rect x="659.10" y="317.1" width="5.10" height="7.8" fill="none" stroke="#000" stroke-width="1.4"/>
<line x1="668.50" x2="668.50" y1="306.7" y2="313.6" stroke="#000" stroke-width="1.35"/>
<line x1="668.50" x2="668.50" y1="317.4" y2="324.2" stroke="#000" stroke-width="1.35"/>
<rect x="665.95" y="314.0" width="5.10" height="3.0" fill="none" stroke="#000" stroke-width="1.4"/>
<line x1="675.35" x2="675.35" y1="312" y2="341.7" stroke="#a92534" stroke-width="1.3"/>
<rect x="671.90" y="313.80" width="6.90" height="23.9" fill="#a92534"/>
<line x1="682.20" x2="682.20" y1="330" y2="331.4" stroke="#000" stroke-width="1.35"/>
<line x1="682.20" x2="682.20" y1="337.9" y2="347.2" stroke="#000" stroke-width="1.35"/>
<rect x="679.65" y="331.8" width="5.10" height="5.7" fill="none" stroke="#000" stroke-width="1.4"/>
<line x1="689.05" x2="689.05" y1="276.7" y2="280" stroke="#000" stroke-width="1.35"/>
<line x1="689.05" x2="689.05" y1="332.4" y2="336.3" stroke="#000" stroke-width="1.35"/>
<rect x="686.50" y="280.4" width="5.10" height="51.6" fill="none" stroke="#000" stroke-width="1.4"/>
<line x1="695.90" x2="695.90" y1="273.3" y2="287.5" stroke="#a92534" stroke-width="1.3"/>
<rect x="692.45" y="279.50" width="6.90" height="1.7" fill="#a92534"/>
<line x1="702.75" x2="702.75" y1="266" y2="266" stroke="#000" stroke-width="1.35"/>
<line x1="702.75" x2="702.75" y1="281.3" y2="284.2" stroke="#000" stroke-width="1.35"/>
<rect x="700.20" y="266.4" width="5.10" height="14.5" fill="none" stroke="#000" stroke-width="1.4"/>
<line x1="709.60" x2="709.60" y1="245" y2="253.7" stroke="#000" stroke-width="1.35"/>
<line x1="709.60" x2="709.60" y1="270.3" y2="279.2" stroke="#000" stroke-width="1.35"/>
<rect x="707.05" y="254.1" width="5.10" height="15.8" fill="none" stroke="#000" stroke-width="1.4"/>
<line x1="716.45" x2="716.45" y1="235.3" y2="250.6" stroke="#000" stroke-width="1.35"/>
<line x1="716.45" x2="716.45" y1="254.2" y2="265.8" stroke="#000" stroke-width="1.35"/>
<rect x="713.90" y="251.0" width="5.10" height="2.8" fill="none" stroke="#000" stroke-width="1.4"/>
<line x1="723.30" x2="723.30" y1="242.5" y2="246.8" stroke="#000" stroke-width="1.35"/>
<line x1="723.30" x2="723.30" y1="251.4" y2="260.8" stroke="#000" stroke-width="1.35"/>
<rect x="720.75" y="247.2" width="5.10" height="3.8" fill="none" stroke="#000" stroke-width="1.4"/>
<line x1="730.15" x2="730.15" y1="231.3" y2="260.8" stroke="#a92534" stroke-width="1.3"/>
<rect x="726.70" y="246.30" width="6.90" height="10.7" fill="#a92534"/>
<line x1="737.00" x2="737.00" y1="251.7" y2="274.7" stroke="#a92534" stroke-width="1.3"/>
<rect x="733.55" y="255.80" width="6.90" height="14.2" fill="#a92534"/>
<line x1="743.85" x2="743.85" y1="261.7" y2="277.5" stroke="#a92534" stroke-width="1.3"/>
<rect x="740.40" y="269.85" width="6.90" height="1.7" fill="#a92534"/>
<line x1="750.70" x2="750.70" y1="265.8" y2="275.8" stroke="#a92534" stroke-width="1.3"/>
<rect x="747.25" y="271.65" width="6.90" height="1.7" fill="#a92534"/>
<line x1="757.55" x2="757.55" y1="264.7" y2="267.5" stroke="#000" stroke-width="1.35"/>
<line x1="757.55" x2="757.55" y1="273.3" y2="280" stroke="#000" stroke-width="1.35"/>
<rect x="755.00" y="267.9" width="5.10" height="5.0" fill="none" stroke="#000" stroke-width="1.4"/>
<line x1="764.40" x2="764.40" y1="242" y2="245" stroke="#000" stroke-width="1.35"/>
<line x1="764.40" x2="764.40" y1="268.7" y2="268.7" stroke="#000" stroke-width="1.35"/>
<rect x="761.85" y="245.4" width="5.10" height="22.9" fill="none" stroke="#000" stroke-width="1.4"/>
<line x1="771.25" x2="771.25" y1="245" y2="260" stroke="#a92534" stroke-width="1.3"/>
<rect x="767.80" y="245.00" width="6.90" height="7.5" fill="#a92534"/>
<line x1="778.10" x2="778.10" y1="249.2" y2="297.5" stroke="#a92534" stroke-width="1.3"/>
<rect x="774.65" y="251.70" width="6.90" height="40.8" fill="#a92534"/>
<line x1="784.95" x2="784.95" y1="286.3" y2="305" stroke="#a92534" stroke-width="1.3"/>
<rect x="781.50" y="291.70" width="6.90" height="8.0" fill="#a92534"/>
<line x1="791.80" x2="791.80" y1="291.7" y2="303.3" stroke="#000" stroke-width="1.35"/>
<line x1="788.65" x2="794.95" y1="298.0" y2="298.0" stroke="#000" stroke-width="2.1"/>
<line x1="798.65" x2="798.65" y1="295.8" y2="323.7" stroke="#a92534" stroke-width="1.3"/>
<rect x="795.20" y="296.70" width="6.90" height="22.0" fill="#a92534"/>
<line x1="805.50" x2="805.50" y1="304.2" y2="339.2" stroke="#a92534" stroke-width="1.3"/>
<rect x="802.05" y="318.00" width="6.90" height="18.7" fill="#a92534"/>
<line x1="812.35" x2="812.35" y1="317.5" y2="319.2" stroke="#000" stroke-width="1.35"/>
<line x1="812.35" x2="812.35" y1="335.8" y2="346" stroke="#000" stroke-width="1.35"/>
<rect x="809.80" y="319.6" width="5.10" height="15.8" fill="none" stroke="#000" stroke-width="1.4"/>
<line x1="819.20" x2="819.20" y1="306.7" y2="336.7" stroke="#a92534" stroke-width="1.3"/>
<rect x="815.75" y="319.20" width="6.90" height="14.1" fill="#a92534"/>
<line x1="826.05" x2="826.05" y1="308.3" y2="319.3" stroke="#000" stroke-width="1.35"/>
<line x1="826.05" x2="826.05" y1="333.8" y2="373.2" stroke="#000" stroke-width="1.35"/>
<rect x="823.50" y="319.7" width="5.10" height="13.7" fill="none" stroke="#000" stroke-width="1.4"/>
<line x1="832.90" x2="832.90" y1="301.3" y2="307" stroke="#000" stroke-width="1.35"/>
<line x1="832.90" x2="832.90" y1="319.7" y2="322.5" stroke="#000" stroke-width="1.35"/>
<rect x="830.35" y="307.4" width="5.10" height="11.9" fill="none" stroke="#000" stroke-width="1.4"/>
<line x1="839.75" x2="839.75" y1="295.8" y2="315.8" stroke="#a92534" stroke-width="1.3"/>
<rect x="836.30" y="306.85" width="6.90" height="1.7" fill="#a92534"/>
<line x1="846.60" x2="846.60" y1="300" y2="336.7" stroke="#a92534" stroke-width="1.3"/>
<rect x="843.15" y="308.00" width="6.90" height="20.3" fill="#a92534"/>
<line x1="853.45" x2="853.45" y1="251.7" y2="260.5" stroke="#000" stroke-width="1.35"/>
<line x1="853.45" x2="853.45" y1="328.3" y2="330.8" stroke="#000" stroke-width="1.35"/>
<rect x="850.90" y="260.9" width="5.10" height="67.0" fill="none" stroke="#000" stroke-width="1.4"/>
<line x1="48.1" x2="48.1" y1="82.5" y2="93.3" stroke="#000" stroke-width="1.4"/>
<line x1="860.2" x2="860.2" y1="241.1" y2="265.3" stroke="#000" stroke-width="1.2"/>
<rect x="857.75" y="255.5" width="5.1" height="4.6" fill="#f3f180" stroke="#000" stroke-width="1.25"/>
</g>
<line x1="47" x2="47" y1="0" y2="401.2" stroke="#bcbcbc" stroke-width="1.2"/>
<line x1="47" x2="870.3" y1="21.3" y2="21.3" stroke="#b4b4b4" stroke-width="1.4"/>
<line x1="47" x2="870.3" y1="401.2" y2="401.2" stroke="#d4d4d4" stroke-width="1"/>
<line x1="870.0" x2="870.0" y1="0" y2="402.2" stroke="#c4c4c4" stroke-width="1.3"/>
<line x1="870.3" x2="872.3" y1="394.1" y2="394.1" stroke="#c4c4c4" stroke-width="0.9"/>
<line x1="870.3" x2="872.3" y1="386.7" y2="386.7" stroke="#c4c4c4" stroke-width="0.9"/>
<line x1="870.3" x2="872.3" y1="379.4" y2="379.4" stroke="#c4c4c4" stroke-width="0.9"/>
<line x1="870.3" x2="872.3" y1="372.2" y2="372.2" stroke="#c4c4c4" stroke-width="0.9"/>
<line x1="870.3" x2="872.3" y1="365.1" y2="365.1" stroke="#c4c4c4" stroke-width="0.9"/>
<line x1="870.3" x2="872.3" y1="358.1" y2="358.1" stroke="#c4c4c4" stroke-width="0.9"/>
<line x1="870.3" x2="872.3" y1="351.2" y2="351.2" stroke="#c4c4c4" stroke-width="0.9"/>
<line x1="870.3" x2="872.3" y1="344.4" y2="344.4" stroke="#c4c4c4" stroke-width="0.9"/>
<line x1="870.3" x2="872.3" y1="337.7" y2="337.7" stroke="#c4c4c4" stroke-width="0.9"/>
<line x1="870.3" x2="872.3" y1="331.0" y2="331.0" stroke="#c4c4c4" stroke-width="0.9"/>
<line x1="870.3" x2="872.3" y1="324.5" y2="324.5" stroke="#c4c4c4" stroke-width="0.9"/>
<line x1="870.3" x2="872.3" y1="318.1" y2="318.1" stroke="#c4c4c4" stroke-width="0.9"/>
<line x1="870.3" x2="872.3" y1="311.7" y2="311.7" stroke="#c4c4c4" stroke-width="0.9"/>
<line x1="870.3" x2="872.3" y1="305.4" y2="305.4" stroke="#c4c4c4" stroke-width="0.9"/>
<line x1="870.3" x2="872.3" y1="299.2" y2="299.2" stroke="#c4c4c4" stroke-width="0.9"/>
<line x1="870.3" x2="872.3" y1="293.1" y2="293.1" stroke="#c4c4c4" stroke-width="0.9"/>
<line x1="870.3" x2="872.3" y1="287.0" y2="287.0" stroke="#c4c4c4" stroke-width="0.9"/>
<line x1="870.3" x2="872.3" y1="281.0" y2="281.0" stroke="#c4c4c4" stroke-width="0.9"/>
<line x1="870.3" x2="872.3" y1="275.1" y2="275.1" stroke="#c4c4c4" stroke-width="0.9"/>
<line x1="870.3" x2="872.3" y1="269.3" y2="269.3" stroke="#c4c4c4" stroke-width="0.9"/>
<line x1="870.3" x2="872.3" y1="263.5" y2="263.5" stroke="#c4c4c4" stroke-width="0.9"/>
<line x1="870.3" x2="872.3" y1="257.8" y2="257.8" stroke="#c4c4c4" stroke-width="0.9"/>
<line x1="870.3" x2="872.3" y1="252.2" y2="252.2" stroke="#c4c4c4" stroke-width="0.9"/>
<line x1="870.3" x2="872.3" y1="246.6" y2="246.6" stroke="#c4c4c4" stroke-width="0.9"/>
<line x1="870.3" x2="872.3" y1="241.1" y2="241.1" stroke="#c4c4c4" stroke-width="0.9"/>
<line x1="870.3" x2="872.3" y1="235.6" y2="235.6" stroke="#c4c4c4" stroke-width="0.9"/>
<line x1="870.3" x2="872.3" y1="230.3" y2="230.3" stroke="#c4c4c4" stroke-width="0.9"/>
<line x1="870.3" x2="872.3" y1="224.9" y2="224.9" stroke="#c4c4c4" stroke-width="0.9"/>
<line x1="870.3" x2="872.3" y1="219.6" y2="219.6" stroke="#c4c4c4" stroke-width="0.9"/>
<line x1="870.3" x2="872.3" y1="214.4" y2="214.4" stroke="#c4c4c4" stroke-width="0.9"/>
<line x1="870.3" x2="872.3" y1="209.3" y2="209.3" stroke="#c4c4c4" stroke-width="0.9"/>
<line x1="870.3" x2="872.3" y1="204.1" y2="204.1" stroke="#c4c4c4" stroke-width="0.9"/>
<line x1="870.3" x2="872.3" y1="199.1" y2="199.1" stroke="#c4c4c4" stroke-width="0.9"/>
<line x1="870.3" x2="872.3" y1="194.1" y2="194.1" stroke="#c4c4c4" stroke-width="0.9"/>
<line x1="870.3" x2="872.3" y1="189.1" y2="189.1" stroke="#c4c4c4" stroke-width="0.9"/>
<line x1="870.3" x2="872.3" y1="184.2" y2="184.2" stroke="#c4c4c4" stroke-width="0.9"/>
<line x1="870.3" x2="872.3" y1="179.4" y2="179.4" stroke="#c4c4c4" stroke-width="0.9"/>
<line x1="870.3" x2="872.3" y1="174.5" y2="174.5" stroke="#c4c4c4" stroke-width="0.9"/>
<line x1="870.3" x2="872.3" y1="169.8" y2="169.8" stroke="#c4c4c4" stroke-width="0.9"/>
<line x1="870.3" x2="872.3" y1="165.1" y2="165.1" stroke="#c4c4c4" stroke-width="0.9"/>
<line x1="870.3" x2="872.3" y1="160.4" y2="160.4" stroke="#c4c4c4" stroke-width="0.9"/>
<line x1="870.3" x2="872.3" y1="155.7" y2="155.7" stroke="#c4c4c4" stroke-width="0.9"/>
<line x1="870.3" x2="872.3" y1="151.2" y2="151.2" stroke="#c4c4c4" stroke-width="0.9"/>
<line x1="870.3" x2="872.3" y1="146.6" y2="146.6" stroke="#c4c4c4" stroke-width="0.9"/>
<line x1="870.3" x2="872.3" y1="142.1" y2="142.1" stroke="#c4c4c4" stroke-width="0.9"/>
<line x1="870.3" x2="872.3" y1="137.6" y2="137.6" stroke="#c4c4c4" stroke-width="0.9"/>
<line x1="870.3" x2="872.3" y1="133.2" y2="133.2" stroke="#c4c4c4" stroke-width="0.9"/>
<line x1="870.3" x2="872.3" y1="128.8" y2="128.8" stroke="#c4c4c4" stroke-width="0.9"/>
<line x1="870.3" x2="872.3" y1="124.5" y2="124.5" stroke="#c4c4c4" stroke-width="0.9"/>
<line x1="870.3" x2="872.3" y1="120.2" y2="120.2" stroke="#c4c4c4" stroke-width="0.9"/>
<line x1="870.3" x2="872.3" y1="115.9" y2="115.9" stroke="#c4c4c4" stroke-width="0.9"/>
<line x1="870.3" x2="872.3" y1="111.7" y2="111.7" stroke="#c4c4c4" stroke-width="0.9"/>
<line x1="870.3" x2="872.3" y1="107.5" y2="107.5" stroke="#c4c4c4" stroke-width="0.9"/>
<line x1="870.3" x2="872.3" y1="103.3" y2="103.3" stroke="#c4c4c4" stroke-width="0.9"/>
<line x1="870.3" x2="872.3" y1="99.2" y2="99.2" stroke="#c4c4c4" stroke-width="0.9"/>
<line x1="870.3" x2="872.3" y1="95.1" y2="95.1" stroke="#c4c4c4" stroke-width="0.9"/>
<line x1="870.3" x2="872.3" y1="91.0" y2="91.0" stroke="#c4c4c4" stroke-width="0.9"/>
<line x1="870.3" x2="872.3" y1="87.0" y2="87.0" stroke="#c4c4c4" stroke-width="0.9"/>
<line x1="870.3" x2="872.3" y1="83.0" y2="83.0" stroke="#c4c4c4" stroke-width="0.9"/>
<line x1="870.3" x2="872.3" y1="79.0" y2="79.0" stroke="#c4c4c4" stroke-width="0.9"/>
<line x1="870.3" x2="872.3" y1="75.1" y2="75.1" stroke="#c4c4c4" stroke-width="0.9"/>
<line x1="870.3" x2="872.3" y1="71.2" y2="71.2" stroke="#c4c4c4" stroke-width="0.9"/>
<line x1="870.3" x2="872.3" y1="67.3" y2="67.3" stroke="#c4c4c4" stroke-width="0.9"/>
<line x1="870.3" x2="872.3" y1="63.5" y2="63.5" stroke="#c4c4c4" stroke-width="0.9"/>
<line x1="870.3" x2="872.3" y1="59.7" y2="59.7" stroke="#c4c4c4" stroke-width="0.9"/>
<line x1="870.3" x2="872.3" y1="55.9" y2="55.9" stroke="#c4c4c4" stroke-width="0.9"/>
<line x1="870.3" x2="872.3" y1="52.2" y2="52.2" stroke="#c4c4c4" stroke-width="0.9"/>
<line x1="870.3" x2="872.3" y1="48.4" y2="48.4" stroke="#c4c4c4" stroke-width="0.9"/>
<line x1="870.3" x2="872.3" y1="44.7" y2="44.7" stroke="#c4c4c4" stroke-width="0.9"/>
<line x1="870.3" x2="872.3" y1="41.1" y2="41.1" stroke="#c4c4c4" stroke-width="0.9"/>
<line x1="870.3" x2="872.3" y1="37.4" y2="37.4" stroke="#c4c4c4" stroke-width="0.9"/>
<line x1="870.3" x2="872.3" y1="33.8" y2="33.8" stroke="#c4c4c4" stroke-width="0.9"/>
<line x1="870.3" x2="872.3" y1="30.2" y2="30.2" stroke="#c4c4c4" stroke-width="0.9"/>
<line x1="870.3" x2="872.3" y1="26.7" y2="26.7" stroke="#c4c4c4" stroke-width="0.9"/>
<line x1="870.3" x2="872.3" y1="23.1" y2="23.1" stroke="#c4c4c4" stroke-width="0.9"/>
<line x1="870.3" x2="872.3" y1="3" y2="3" stroke="#c4c4c4" stroke-width="0.9"/>
<line x1="870.3" x2="872.3" y1="7" y2="7" stroke="#c4c4c4" stroke-width="0.9"/>
<line x1="870.3" x2="872.3" y1="11" y2="11" stroke="#c4c4c4" stroke-width="0.9"/>
<line x1="870.3" x2="872.3" y1="15" y2="15" stroke="#c4c4c4" stroke-width="0.9"/>
<line x1="870.3" x2="872.3" y1="19" y2="19" stroke="#c4c4c4" stroke-width="0.9"/>
<line x1="47" x2="870.3" y1="420.8" y2="420.8" stroke="#c4c4c4" stroke-width="1.2"/>
<line x1="47" x2="47" y1="420.8" y2="423" stroke="#b9b9b9" stroke-width="1.4"/>
<line x1="52.0" x2="52.0" y1="401.7" y2="403.4" stroke="#cfcfcf" stroke-width="0.9"/>
<line x1="52.0" x2="52.0" y1="418.6" y2="420.4" stroke="#cfcfcf" stroke-width="0.9"/>
<line x1="58.9" x2="58.9" y1="401.7" y2="403.4" stroke="#cfcfcf" stroke-width="0.9"/>
<line x1="58.9" x2="58.9" y1="418.6" y2="420.4" stroke="#cfcfcf" stroke-width="0.9"/>
<line x1="65.7" x2="65.7" y1="401.7" y2="403.4" stroke="#cfcfcf" stroke-width="0.9"/>
<line x1="65.7" x2="65.7" y1="418.6" y2="420.4" stroke="#cfcfcf" stroke-width="0.9"/>
<line x1="72.6" x2="72.6" y1="401.7" y2="403.4" stroke="#cfcfcf" stroke-width="0.9"/>
<line x1="72.6" x2="72.6" y1="418.6" y2="420.4" stroke="#cfcfcf" stroke-width="0.9"/>
<line x1="79.4" x2="79.4" y1="401.7" y2="403.4" stroke="#cfcfcf" stroke-width="0.9"/>
<line x1="79.4" x2="79.4" y1="418.6" y2="420.4" stroke="#cfcfcf" stroke-width="0.9"/>
<line x1="86.3" x2="86.3" y1="401.7" y2="403.4" stroke="#cfcfcf" stroke-width="0.9"/>
<line x1="86.3" x2="86.3" y1="418.6" y2="420.4" stroke="#cfcfcf" stroke-width="0.9"/>
<line x1="93.1" x2="93.1" y1="401.7" y2="403.4" stroke="#cfcfcf" stroke-width="0.9"/>
<line x1="93.1" x2="93.1" y1="418.6" y2="420.4" stroke="#cfcfcf" stroke-width="0.9"/>
<line x1="100.0" x2="100.0" y1="401.7" y2="403.4" stroke="#cfcfcf" stroke-width="0.9"/>
<line x1="100.0" x2="100.0" y1="418.6" y2="420.4" stroke="#cfcfcf" stroke-width="0.9"/>
<line x1="106.8" x2="106.8" y1="401.7" y2="403.4" stroke="#cfcfcf" stroke-width="0.9"/>
<line x1="106.8" x2="106.8" y1="418.6" y2="420.4" stroke="#cfcfcf" stroke-width="0.9"/>
<line x1="113.7" x2="113.7" y1="401.7" y2="403.4" stroke="#cfcfcf" stroke-width="0.9"/>
<line x1="113.7" x2="113.7" y1="418.6" y2="420.4" stroke="#cfcfcf" stroke-width="0.9"/>
<line x1="120.5" x2="120.5" y1="401.7" y2="403.4" stroke="#cfcfcf" stroke-width="0.9"/>
<line x1="120.5" x2="120.5" y1="418.6" y2="420.4" stroke="#cfcfcf" stroke-width="0.9"/>
<line x1="127.4" x2="127.4" y1="401.7" y2="403.4" stroke="#cfcfcf" stroke-width="0.9"/>
<line x1="127.4" x2="127.4" y1="418.6" y2="420.4" stroke="#cfcfcf" stroke-width="0.9"/>
<line x1="134.2" x2="134.2" y1="401.7" y2="403.4" stroke="#cfcfcf" stroke-width="0.9"/>
<line x1="134.2" x2="134.2" y1="418.6" y2="420.4" stroke="#cfcfcf" stroke-width="0.9"/>
<line x1="141.1" x2="141.1" y1="401.7" y2="403.4" stroke="#cfcfcf" stroke-width="0.9"/>
<line x1="141.1" x2="141.1" y1="418.6" y2="420.4" stroke="#cfcfcf" stroke-width="0.9"/>
<line x1="147.9" x2="147.9" y1="401.7" y2="403.4" stroke="#cfcfcf" stroke-width="0.9"/>
<line x1="147.9" x2="147.9" y1="418.6" y2="420.4" stroke="#cfcfcf" stroke-width="0.9"/>
<line x1="154.8" x2="154.8" y1="401.7" y2="403.4" stroke="#cfcfcf" stroke-width="0.9"/>
<line x1="154.8" x2="154.8" y1="418.6" y2="420.4" stroke="#cfcfcf" stroke-width="0.9"/>
<line x1="161.6" x2="161.6" y1="401.7" y2="403.4" stroke="#cfcfcf" stroke-width="0.9"/>
<line x1="161.6" x2="161.6" y1="418.6" y2="420.4" stroke="#cfcfcf" stroke-width="0.9"/>
<line x1="168.5" x2="168.5" y1="401.7" y2="403.4" stroke="#cfcfcf" stroke-width="0.9"/>
<line x1="168.5" x2="168.5" y1="418.6" y2="420.4" stroke="#cfcfcf" stroke-width="0.9"/>
<line x1="175.3" x2="175.3" y1="401.7" y2="403.4" stroke="#cfcfcf" stroke-width="0.9"/>
<line x1="175.3" x2="175.3" y1="418.6" y2="420.4" stroke="#cfcfcf" stroke-width="0.9"/>
<line x1="182.2" x2="182.2" y1="401.7" y2="403.4" stroke="#cfcfcf" stroke-width="0.9"/>
<line x1="182.2" x2="182.2" y1="418.6" y2="420.4" stroke="#cfcfcf" stroke-width="0.9"/>
<line x1="189.0" x2="189.0" y1="401.7" y2="403.4" stroke="#cfcfcf" stroke-width="0.9"/>
<line x1="189.0" x2="189.0" y1="418.6" y2="420.4" stroke="#cfcfcf" stroke-width="0.9"/>
<line x1="195.9" x2="195.9" y1="401.7" y2="403.4" stroke="#cfcfcf" stroke-width="0.9"/>
<line x1="195.9" x2="195.9" y1="418.6" y2="420.4" stroke="#cfcfcf" stroke-width="0.9"/>
<line x1="202.7" x2="202.7" y1="401.7" y2="403.4" stroke="#cfcfcf" stroke-width="0.9"/>
<line x1="202.7" x2="202.7" y1="418.6" y2="420.4" stroke="#cfcfcf" stroke-width="0.9"/>
<line x1="209.6" x2="209.6" y1="401.7" y2="403.4" stroke="#cfcfcf" stroke-width="0.9"/>
<line x1="209.6" x2="209.6" y1="418.6" y2="420.4" stroke="#cfcfcf" stroke-width="0.9"/>
<line x1="216.4" x2="216.4" y1="401.7" y2="403.4" stroke="#cfcfcf" stroke-width="0.9"/>
<line x1="216.4" x2="216.4" y1="418.6" y2="420.4" stroke="#cfcfcf" stroke-width="0.9"/>
<line x1="223.2" x2="223.2" y1="401.7" y2="403.4" stroke="#cfcfcf" stroke-width="0.9"/>
<line x1="223.2" x2="223.2" y1="418.6" y2="420.4" stroke="#cfcfcf" stroke-width="0.9"/>
<line x1="230.1" x2="230.1" y1="401.7" y2="403.4" stroke="#cfcfcf" stroke-width="0.9"/>
<line x1="230.1" x2="230.1" y1="418.6" y2="420.4" stroke="#cfcfcf" stroke-width="0.9"/>
<line x1="237.0" x2="237.0" y1="401.7" y2="403.4" stroke="#cfcfcf" stroke-width="0.9"/>
<line x1="237.0" x2="237.0" y1="418.6" y2="420.4" stroke="#cfcfcf" stroke-width="0.9"/>
<line x1="243.8" x2="243.8" y1="401.7" y2="403.4" stroke="#cfcfcf" stroke-width="0.9"/>
<line x1="243.8" x2="243.8" y1="418.6" y2="420.4" stroke="#cfcfcf" stroke-width="0.9"/>
<line x1="250.7" x2="250.7" y1="401.7" y2="403.4" stroke="#cfcfcf" stroke-width="0.9"/>
<line x1="250.7" x2="250.7" y1="418.6" y2="420.4" stroke="#cfcfcf" stroke-width="0.9"/>
<line x1="257.5" x2="257.5" y1="401.7" y2="403.4" stroke="#cfcfcf" stroke-width="0.9"/>
<line x1="257.5" x2="257.5" y1="418.6" y2="420.4" stroke="#cfcfcf" stroke-width="0.9"/>
<line x1="264.4" x2="264.4" y1="401.7" y2="403.4" stroke="#cfcfcf" stroke-width="0.9"/>
<line x1="264.4" x2="264.4" y1="418.6" y2="420.4" stroke="#cfcfcf" stroke-width="0.9"/>
<line x1="271.2" x2="271.2" y1="401.7" y2="403.4" stroke="#cfcfcf" stroke-width="0.9"/>
<line x1="271.2" x2="271.2" y1="418.6" y2="420.4" stroke="#cfcfcf" stroke-width="0.9"/>
<line x1="278.1" x2="278.1" y1="401.7" y2="403.4" stroke="#cfcfcf" stroke-width="0.9"/>
<line x1="278.1" x2="278.1" y1="418.6" y2="420.4" stroke="#cfcfcf" stroke-width="0.9"/>
<line x1="284.9" x2="284.9" y1="401.7" y2="403.4" stroke="#cfcfcf" stroke-width="0.9"/>
<line x1="284.9" x2="284.9" y1="418.6" y2="420.4" stroke="#cfcfcf" stroke-width="0.9"/>
<line x1="291.8" x2="291.8" y1="401.7" y2="403.4" stroke="#cfcfcf" stroke-width="0.9"/>
<line x1="291.8" x2="291.8" y1="418.6" y2="420.4" stroke="#cfcfcf" stroke-width="0.9"/>
<line x1="298.6" x2="298.6" y1="401.7" y2="403.4" stroke="#cfcfcf" stroke-width="0.9"/>
<line x1="298.6" x2="298.6" y1="418.6" y2="420.4" stroke="#cfcfcf" stroke-width="0.9"/>
<line x1="305.4" x2="305.4" y1="401.7" y2="403.4" stroke="#cfcfcf" stroke-width="0.9"/>
<line x1="305.4" x2="305.4" y1="418.6" y2="420.4" stroke="#cfcfcf" stroke-width="0.9"/>
<line x1="312.3" x2="312.3" y1="401.7" y2="403.4" stroke="#cfcfcf" stroke-width="0.9"/>
<line x1="312.3" x2="312.3" y1="418.6" y2="420.4" stroke="#cfcfcf" stroke-width="0.9"/>
<line x1="319.1" x2="319.1" y1="401.7" y2="403.4" stroke="#cfcfcf" stroke-width="0.9"/>
<line x1="319.1" x2="319.1" y1="418.6" y2="420.4" stroke="#cfcfcf" stroke-width="0.9"/>
<line x1="326.0" x2="326.0" y1="401.7" y2="403.4" stroke="#cfcfcf" stroke-width="0.9"/>
<line x1="326.0" x2="326.0" y1="418.6" y2="420.4" stroke="#cfcfcf" stroke-width="0.9"/>
<line x1="332.9" x2="332.9" y1="401.7" y2="403.4" stroke="#cfcfcf" stroke-width="0.9"/>
<line x1="332.9" x2="332.9" y1="418.6" y2="420.4" stroke="#cfcfcf" stroke-width="0.9"/>
<line x1="339.7" x2="339.7" y1="401.7" y2="403.4" stroke="#cfcfcf" stroke-width="0.9"/>
<line x1="339.7" x2="339.7" y1="418.6" y2="420.4" stroke="#cfcfcf" stroke-width="0.9"/>
<line x1="346.6" x2="346.6" y1="401.7" y2="403.4" stroke="#cfcfcf" stroke-width="0.9"/>
<line x1="346.6" x2="346.6" y1="418.6" y2="420.4" stroke="#cfcfcf" stroke-width="0.9"/>
<line x1="353.4" x2="353.4" y1="401.7" y2="403.4" stroke="#cfcfcf" stroke-width="0.9"/>
<line x1="353.4" x2="353.4" y1="418.6" y2="420.4" stroke="#cfcfcf" stroke-width="0.9"/>
<line x1="360.2" x2="360.2" y1="401.7" y2="403.4" stroke="#cfcfcf" stroke-width="0.9"/>
<line x1="360.2" x2="360.2" y1="418.6" y2="420.4" stroke="#cfcfcf" stroke-width="0.9"/>
<line x1="367.1" x2="367.1" y1="401.7" y2="403.4" stroke="#cfcfcf" stroke-width="0.9"/>
<line x1="367.1" x2="367.1" y1="418.6" y2="420.4" stroke="#cfcfcf" stroke-width="0.9"/>
<line x1="374.0" x2="374.0" y1="401.7" y2="403.4" stroke="#cfcfcf" stroke-width="0.9"/>
<line x1="374.0" x2="374.0" y1="418.6" y2="420.4" stroke="#cfcfcf" stroke-width="0.9"/>
<line x1="380.8" x2="380.8" y1="401.7" y2="403.4" stroke="#cfcfcf" stroke-width="0.9"/>
<line x1="380.8" x2="380.8" y1="418.6" y2="420.4" stroke="#cfcfcf" stroke-width="0.9"/>
<line x1="387.6" x2="387.6" y1="401.7" y2="403.4" stroke="#cfcfcf" stroke-width="0.9"/>
<line x1="387.6" x2="387.6" y1="418.6" y2="420.4" stroke="#cfcfcf" stroke-width="0.9"/>
<line x1="394.5" x2="394.5" y1="401.7" y2="403.4" stroke="#cfcfcf" stroke-width="0.9"/>
<line x1="394.5" x2="394.5" y1="418.6" y2="420.4" stroke="#cfcfcf" stroke-width="0.9"/>
<line x1="401.4" x2="401.4" y1="401.7" y2="403.4" stroke="#cfcfcf" stroke-width="0.9"/>
<line x1="401.4" x2="401.4" y1="418.6" y2="420.4" stroke="#cfcfcf" stroke-width="0.9"/>
<line x1="408.2" x2="408.2" y1="401.7" y2="403.4" stroke="#cfcfcf" stroke-width="0.9"/>
<line x1="408.2" x2="408.2" y1="418.6" y2="420.4" stroke="#cfcfcf" stroke-width="0.9"/>
<line x1="415.1" x2="415.1" y1="401.7" y2="403.4" stroke="#cfcfcf" stroke-width="0.9"/>
<line x1="415.1" x2="415.1" y1="418.6" y2="420.4" stroke="#cfcfcf" stroke-width="0.9"/>
<line x1="421.9" x2="421.9" y1="401.7" y2="403.4" stroke="#cfcfcf" stroke-width="0.9"/>
<line x1="421.9" x2="421.9" y1="418.6" y2="420.4" stroke="#cfcfcf" stroke-width="0.9"/>
<line x1="428.8" x2="428.8" y1="401.7" y2="403.4" stroke="#cfcfcf" stroke-width="0.9"/>
<line x1="428.8" x2="428.8" y1="418.6" y2="420.4" stroke="#cfcfcf" stroke-width="0.9"/>
<line x1="435.6" x2="435.6" y1="401.7" y2="403.4" stroke="#cfcfcf" stroke-width="0.9"/>
<line x1="435.6" x2="435.6" y1="418.6" y2="420.4" stroke="#cfcfcf" stroke-width="0.9"/>
<line x1="442.4" x2="442.4" y1="401.7" y2="403.4" stroke="#cfcfcf" stroke-width="0.9"/>
<line x1="442.4" x2="442.4" y1="418.6" y2="420.4" stroke="#cfcfcf" stroke-width="0.9"/>
<line x1="449.3" x2="449.3" y1="401.7" y2="403.4" stroke="#cfcfcf" stroke-width="0.9"/>
<line x1="449.3" x2="449.3" y1="418.6" y2="420.4" stroke="#cfcfcf" stroke-width="0.9"/>
<line x1="456.1" x2="456.1" y1="401.7" y2="403.4" stroke="#cfcfcf" stroke-width="0.9"/>
<line x1="456.1" x2="456.1" y1="418.6" y2="420.4" stroke="#cfcfcf" stroke-width="0.9"/>
<line x1="463.0" x2="463.0" y1="401.7" y2="403.4" stroke="#cfcfcf" stroke-width="0.9"/>
<line x1="463.0" x2="463.0" y1="418.6" y2="420.4" stroke="#cfcfcf" stroke-width="0.9"/>
<line x1="469.9" x2="469.9" y1="401.7" y2="403.4" stroke="#cfcfcf" stroke-width="0.9"/>
<line x1="469.9" x2="469.9" y1="418.6" y2="420.4" stroke="#cfcfcf" stroke-width="0.9"/>
<line x1="476.7" x2="476.7" y1="401.7" y2="403.4" stroke="#cfcfcf" stroke-width="0.9"/>
<line x1="476.7" x2="476.7" y1="418.6" y2="420.4" stroke="#cfcfcf" stroke-width="0.9"/>
<line x1="483.6" x2="483.6" y1="401.7" y2="403.4" stroke="#cfcfcf" stroke-width="0.9"/>
<line x1="483.6" x2="483.6" y1="418.6" y2="420.4" stroke="#cfcfcf" stroke-width="0.9"/>
<line x1="490.4" x2="490.4" y1="401.7" y2="403.4" stroke="#cfcfcf" stroke-width="0.9"/>
<line x1="490.4" x2="490.4" y1="418.6" y2="420.4" stroke="#cfcfcf" stroke-width="0.9"/>
<line x1="497.2" x2="497.2" y1="401.7" y2="403.4" stroke="#cfcfcf" stroke-width="0.9"/>
<line x1="497.2" x2="497.2" y1="418.6" y2="420.4" stroke="#cfcfcf" stroke-width="0.9"/>
<line x1="504.1" x2="504.1" y1="401.7" y2="403.4" stroke="#cfcfcf" stroke-width="0.9"/>
<line x1="504.1" x2="504.1" y1="418.6" y2="420.4" stroke="#cfcfcf" stroke-width="0.9"/>
<line x1="510.9" x2="510.9" y1="401.7" y2="403.4" stroke="#cfcfcf" stroke-width="0.9"/>
<line x1="510.9" x2="510.9" y1="418.6" y2="420.4" stroke="#cfcfcf" stroke-width="0.9"/>
<line x1="517.8" x2="517.8" y1="401.7" y2="403.4" stroke="#cfcfcf" stroke-width="0.9"/>
<line x1="517.8" x2="517.8" y1="418.6" y2="420.4" stroke="#cfcfcf" stroke-width="0.9"/>
<line x1="524.6" x2="524.6" y1="401.7" y2="403.4" stroke="#cfcfcf" stroke-width="0.9"/>
<line x1="524.6" x2="524.6" y1="418.6" y2="420.4" stroke="#cfcfcf" stroke-width="0.9"/>
<line x1="531.5" x2="531.5" y1="401.7" y2="403.4" stroke="#cfcfcf" stroke-width="0.9"/>
<line x1="531.5" x2="531.5" y1="418.6" y2="420.4" stroke="#cfcfcf" stroke-width="0.9"/>
<line x1="538.4" x2="538.4" y1="401.7" y2="403.4" stroke="#cfcfcf" stroke-width="0.9"/>
<line x1="538.4" x2="538.4" y1="418.6" y2="420.4" stroke="#cfcfcf" stroke-width="0.9"/>
<line x1="545.2" x2="545.2" y1="401.7" y2="403.4" stroke="#cfcfcf" stroke-width="0.9"/>
<line x1="545.2" x2="545.2" y1="418.6" y2="420.4" stroke="#cfcfcf" stroke-width="0.9"/>
<line x1="552.0" x2="552.0" y1="401.7" y2="403.4" stroke="#cfcfcf" stroke-width="0.9"/>
<line x1="552.0" x2="552.0" y1="418.6" y2="420.4" stroke="#cfcfcf" stroke-width="0.9"/>
<line x1="558.9" x2="558.9" y1="401.7" y2="403.4" stroke="#cfcfcf" stroke-width="0.9"/>
<line x1="558.9" x2="558.9" y1="418.6" y2="420.4" stroke="#cfcfcf" stroke-width="0.9"/>
<line x1="565.8" x2="565.8" y1="401.7" y2="403.4" stroke="#cfcfcf" stroke-width="0.9"/>
<line x1="565.8" x2="565.8" y1="418.6" y2="420.4" stroke="#cfcfcf" stroke-width="0.9"/>
<line x1="572.6" x2="572.6" y1="401.7" y2="403.4" stroke="#cfcfcf" stroke-width="0.9"/>
<line x1="572.6" x2="572.6" y1="418.6" y2="420.4" stroke="#cfcfcf" stroke-width="0.9"/>
<line x1="579.5" x2="579.5" y1="401.7" y2="403.4" stroke="#cfcfcf" stroke-width="0.9"/>
<line x1="579.5" x2="579.5" y1="418.6" y2="420.4" stroke="#cfcfcf" stroke-width="0.9"/>
<line x1="586.3" x2="586.3" y1="401.7" y2="403.4" stroke="#cfcfcf" stroke-width="0.9"/>
<line x1="586.3" x2="586.3" y1="418.6" y2="420.4" stroke="#cfcfcf" stroke-width="0.9"/>
<line x1="593.1" x2="593.1" y1="401.7" y2="403.4" stroke="#cfcfcf" stroke-width="0.9"/>
<line x1="593.1" x2="593.1" y1="418.6" y2="420.4" stroke="#cfcfcf" stroke-width="0.9"/>
<line x1="600.0" x2="600.0" y1="401.7" y2="403.4" stroke="#cfcfcf" stroke-width="0.9"/>
<line x1="600.0" x2="600.0" y1="418.6" y2="420.4" stroke="#cfcfcf" stroke-width="0.9"/>
<line x1="606.8" x2="606.8" y1="401.7" y2="403.4" stroke="#cfcfcf" stroke-width="0.9"/>
<line x1="606.8" x2="606.8" y1="418.6" y2="420.4" stroke="#cfcfcf" stroke-width="0.9"/>
<line x1="613.7" x2="613.7" y1="401.7" y2="403.4" stroke="#cfcfcf" stroke-width="0.9"/>
<line x1="613.7" x2="613.7" y1="418.6" y2="420.4" stroke="#cfcfcf" stroke-width="0.9"/>
<line x1="620.5" x2="620.5" y1="401.7" y2="403.4" stroke="#cfcfcf" stroke-width="0.9"/>
<line x1="620.5" x2="620.5" y1="418.6" y2="420.4" stroke="#cfcfcf" stroke-width="0.9"/>
<line x1="627.4" x2="627.4" y1="401.7" y2="403.4" stroke="#cfcfcf" stroke-width="0.9"/>
<line x1="627.4" x2="627.4" y1="418.6" y2="420.4" stroke="#cfcfcf" stroke-width="0.9"/>
<line x1="634.2" x2="634.2" y1="401.7" y2="403.4" stroke="#cfcfcf" stroke-width="0.9"/>
<line x1="634.2" x2="634.2" y1="418.6" y2="420.4" stroke="#cfcfcf" stroke-width="0.9"/>
<line x1="641.1" x2="641.1" y1="401.7" y2="403.4" stroke="#cfcfcf" stroke-width="0.9"/>
<line x1="641.1" x2="641.1" y1="418.6" y2="420.4" stroke="#cfcfcf" stroke-width="0.9"/>
<line x1="648.0" x2="648.0" y1="401.7" y2="403.4" stroke="#cfcfcf" stroke-width="0.9"/>
<line x1="648.0" x2="648.0" y1="418.6" y2="420.4" stroke="#cfcfcf" stroke-width="0.9"/>
<line x1="654.8" x2="654.8" y1="401.7" y2="403.4" stroke="#cfcfcf" stroke-width="0.9"/>
<line x1="654.8" x2="654.8" y1="418.6" y2="420.4" stroke="#cfcfcf" stroke-width="0.9"/>
<line x1="661.6" x2="661.6" y1="401.7" y2="403.4" stroke="#cfcfcf" stroke-width="0.9"/>
<line x1="661.6" x2="661.6" y1="418.6" y2="420.4" stroke="#cfcfcf" stroke-width="0.9"/>
<line x1="668.5" x2="668.5" y1="401.7" y2="403.4" stroke="#cfcfcf" stroke-width="0.9"/>
<line x1="668.5" x2="668.5" y1="418.6" y2="420.4" stroke="#cfcfcf" stroke-width="0.9"/>
<line x1="675.3" x2="675.3" y1="401.7" y2="403.4" stroke="#cfcfcf" stroke-width="0.9"/>
<line x1="675.3" x2="675.3" y1="418.6" y2="420.4" stroke="#cfcfcf" stroke-width="0.9"/>
<line x1="682.2" x2="682.2" y1="401.7" y2="403.4" stroke="#cfcfcf" stroke-width="0.9"/>
<line x1="682.2" x2="682.2" y1="418.6" y2="420.4" stroke="#cfcfcf" stroke-width="0.9"/>
<line x1="689.0" x2="689.0" y1="401.7" y2="403.4" stroke="#cfcfcf" stroke-width="0.9"/>
<line x1="689.0" x2="689.0" y1="418.6" y2="420.4" stroke="#cfcfcf" stroke-width="0.9"/>
<line x1="695.9" x2="695.9" y1="401.7" y2="403.4" stroke="#cfcfcf" stroke-width="0.9"/>
<line x1="695.9" x2="695.9" y1="418.6" y2="420.4" stroke="#cfcfcf" stroke-width="0.9"/>
<line x1="702.8" x2="702.8" y1="401.7" y2="403.4" stroke="#cfcfcf" stroke-width="0.9"/>
<line x1="702.8" x2="702.8" y1="418.6" y2="420.4" stroke="#cfcfcf" stroke-width="0.9"/>
<line x1="709.6" x2="709.6" y1="401.7" y2="403.4" stroke="#cfcfcf" stroke-width="0.9"/>
<line x1="709.6" x2="709.6" y1="418.6" y2="420.4" stroke="#cfcfcf" stroke-width="0.9"/>
<line x1="716.5" x2="716.5" y1="401.7" y2="403.4" stroke="#cfcfcf" stroke-width="0.9"/>
<line x1="716.5" x2="716.5" y1="418.6" y2="420.4" stroke="#cfcfcf" stroke-width="0.9"/>
<line x1="723.3" x2="723.3" y1="401.7" y2="403.4" stroke="#cfcfcf" stroke-width="0.9"/>
<line x1="723.3" x2="723.3" y1="418.6" y2="420.4" stroke="#cfcfcf" stroke-width="0.9"/>
<line x1="730.1" x2="730.1" y1="401.7" y2="403.4" stroke="#cfcfcf" stroke-width="0.9"/>
<line x1="730.1" x2="730.1" y1="418.6" y2="420.4" stroke="#cfcfcf" stroke-width="0.9"/>
<line x1="737.0" x2="737.0" y1="401.7" y2="403.4" stroke="#cfcfcf" stroke-width="0.9"/>
<line x1="737.0" x2="737.0" y1="418.6" y2="420.4" stroke="#cfcfcf" stroke-width="0.9"/>
<line x1="743.8" x2="743.8" y1="401.7" y2="403.4" stroke="#cfcfcf" stroke-width="0.9"/>
<line x1="743.8" x2="743.8" y1="418.6" y2="420.4" stroke="#cfcfcf" stroke-width="0.9"/>
<line x1="750.7" x2="750.7" y1="401.7" y2="403.4" stroke="#cfcfcf" stroke-width="0.9"/>
<line x1="750.7" x2="750.7" y1="418.6" y2="420.4" stroke="#cfcfcf" stroke-width="0.9"/>
<line x1="757.5" x2="757.5" y1="401.7" y2="403.4" stroke="#cfcfcf" stroke-width="0.9"/>
<line x1="757.5" x2="757.5" y1="418.6" y2="420.4" stroke="#cfcfcf" stroke-width="0.9"/>
<line x1="764.4" x2="764.4" y1="401.7" y2="403.4" stroke="#cfcfcf" stroke-width="0.9"/>
<line x1="764.4" x2="764.4" y1="418.6" y2="420.4" stroke="#cfcfcf" stroke-width="0.9"/>
<line x1="771.2" x2="771.2" y1="401.7" y2="403.4" stroke="#cfcfcf" stroke-width="0.9"/>
<line x1="771.2" x2="771.2" y1="418.6" y2="420.4" stroke="#cfcfcf" stroke-width="0.9"/>
<line x1="778.1" x2="778.1" y1="401.7" y2="403.4" stroke="#cfcfcf" stroke-width="0.9"/>
<line x1="778.1" x2="778.1" y1="418.6" y2="420.4" stroke="#cfcfcf" stroke-width="0.9"/>
<line x1="785.0" x2="785.0" y1="401.7" y2="403.4" stroke="#cfcfcf" stroke-width="0.9"/>
<line x1="785.0" x2="785.0" y1="418.6" y2="420.4" stroke="#cfcfcf" stroke-width="0.9"/>
<line x1="791.8" x2="791.8" y1="401.7" y2="403.4" stroke="#cfcfcf" stroke-width="0.9"/>
<line x1="791.8" x2="791.8" y1="418.6" y2="420.4" stroke="#cfcfcf" stroke-width="0.9"/>
<line x1="798.7" x2="798.7" y1="401.7" y2="403.4" stroke="#cfcfcf" stroke-width="0.9"/>
<line x1="798.7" x2="798.7" y1="418.6" y2="420.4" stroke="#cfcfcf" stroke-width="0.9"/>
<line x1="805.5" x2="805.5" y1="401.7" y2="403.4" stroke="#cfcfcf" stroke-width="0.9"/>
<line x1="805.5" x2="805.5" y1="418.6" y2="420.4" stroke="#cfcfcf" stroke-width="0.9"/>
<line x1="812.3" x2="812.3" y1="401.7" y2="403.4" stroke="#cfcfcf" stroke-width="0.9"/>
<line x1="812.3" x2="812.3" y1="418.6" y2="420.4" stroke="#cfcfcf" stroke-width="0.9"/>
<line x1="819.2" x2="819.2" y1="401.7" y2="403.4" stroke="#cfcfcf" stroke-width="0.9"/>
<line x1="819.2" x2="819.2" y1="418.6" y2="420.4" stroke="#cfcfcf" stroke-width="0.9"/>
<line x1="826.0" x2="826.0" y1="401.7" y2="403.4" stroke="#cfcfcf" stroke-width="0.9"/>
<line x1="826.0" x2="826.0" y1="418.6" y2="420.4" stroke="#cfcfcf" stroke-width="0.9"/>
<line x1="832.9" x2="832.9" y1="401.7" y2="403.4" stroke="#cfcfcf" stroke-width="0.9"/>
<line x1="832.9" x2="832.9" y1="418.6" y2="420.4" stroke="#cfcfcf" stroke-width="0.9"/>
<line x1="839.8" x2="839.8" y1="401.7" y2="403.4" stroke="#cfcfcf" stroke-width="0.9"/>
<line x1="839.8" x2="839.8" y1="418.6" y2="420.4" stroke="#cfcfcf" stroke-width="0.9"/>
<line x1="846.6" x2="846.6" y1="401.7" y2="403.4" stroke="#cfcfcf" stroke-width="0.9"/>
<line x1="846.6" x2="846.6" y1="418.6" y2="420.4" stroke="#cfcfcf" stroke-width="0.9"/>
<line x1="853.5" x2="853.5" y1="401.7" y2="403.4" stroke="#cfcfcf" stroke-width="0.9"/>
<line x1="853.5" x2="853.5" y1="418.6" y2="420.4" stroke="#cfcfcf" stroke-width="0.9"/>
<line x1="860.3" x2="860.3" y1="401.7" y2="403.4" stroke="#cfcfcf" stroke-width="0.9"/>
<line x1="860.3" x2="860.3" y1="418.6" y2="420.4" stroke="#cfcfcf" stroke-width="0.9"/>
<text x="874.4" y="44.5" font-size="11.9" font-weight="normal" fill="#000" stroke="#000" stroke-width="0.25" text-anchor="start" textLength="39.7" lengthAdjust="spacingAndGlyphs">67500</text>
<text x="874.4" y="63.9" font-size="11.9" font-weight="normal" fill="#000" stroke="#000" stroke-width="0.25" text-anchor="start" textLength="39.7" lengthAdjust="spacingAndGlyphs">65000</text>
<text x="874.4" y="82.60000000000001" font-size="11.9" font-weight="normal" fill="#000" stroke="#000" stroke-width="0.25" text-anchor="start" textLength="39.7" lengthAdjust="spacingAndGlyphs">62500</text>
<text x="874.4" y="102.0" font-size="11.9" font-weight="normal" fill="#000" stroke="#000" stroke-width="0.25" text-anchor="start" textLength="39.7" lengthAdjust="spacingAndGlyphs">60000</text>
<text x="874.4" y="124.4" font-size="11.9" font-weight="normal" fill="#000" stroke="#000" stroke-width="0.25" text-anchor="start" textLength="39.7" lengthAdjust="spacingAndGlyphs">57500</text>
<text x="874.4" y="146.20000000000002" font-size="11.9" font-weight="normal" fill="#000" stroke="#000" stroke-width="0.25" text-anchor="start" textLength="39.7" lengthAdjust="spacingAndGlyphs">55000</text>
<text x="874.4" y="167.6" font-size="11.9" font-weight="normal" fill="#000" stroke="#000" stroke-width="0.25" text-anchor="start" textLength="39.7" lengthAdjust="spacingAndGlyphs">52500</text>
<text x="874.4" y="192.20000000000002" font-size="11.9" font-weight="normal" fill="#000" stroke="#000" stroke-width="0.25" text-anchor="start" textLength="39.7" lengthAdjust="spacingAndGlyphs">50000</text>
<text x="874.4" y="217.1" font-size="11.9" font-weight="normal" fill="#000" stroke="#000" stroke-width="0.25" text-anchor="start" textLength="39.7" lengthAdjust="spacingAndGlyphs">47500</text>
<text x="874.4" y="242.6" font-size="11.9" font-weight="normal" fill="#000" stroke="#000" stroke-width="0.25" text-anchor="start" textLength="39.7" lengthAdjust="spacingAndGlyphs">45000</text>
<text x="874.4" y="272.2" font-size="11.9" font-weight="normal" fill="#000" stroke="#000" stroke-width="0.25" text-anchor="start" textLength="39.7" lengthAdjust="spacingAndGlyphs">42500</text>
<text x="874.4" y="302.4" font-size="11.9" font-weight="normal" fill="#000" stroke="#000" stroke-width="0.25" text-anchor="start" textLength="39.7" lengthAdjust="spacingAndGlyphs">40000</text>
<text x="874.4" y="333.09999999999997" font-size="11.9" font-weight="normal" fill="#000" stroke="#000" stroke-width="0.25" text-anchor="start" textLength="39.7" lengthAdjust="spacingAndGlyphs">37500</text>
<text x="874.4" y="366.5" font-size="11.9" font-weight="normal" fill="#000" stroke="#000" stroke-width="0.25" text-anchor="start" textLength="39.7" lengthAdjust="spacingAndGlyphs">35000</text>
<line x1="870.3" x2="873.5999999999999" y1="41.6" y2="41.6" stroke="#c0c0c0" stroke-width="1"/>
<line x1="870.3" x2="873.5999999999999" y1="61.0" y2="61.0" stroke="#c0c0c0" stroke-width="1"/>
<line x1="870.3" x2="873.5999999999999" y1="80.2" y2="80.2" stroke="#c0c0c0" stroke-width="1"/>
<line x1="870.3" x2="873.5999999999999" y1="99.6" y2="99.6" stroke="#c0c0c0" stroke-width="1"/>
<line x1="870.3" x2="873.5999999999999" y1="121.5" y2="121.5" stroke="#c0c0c0" stroke-width="1"/>
<line x1="870.3" x2="873.5999999999999" y1="143.3" y2="143.3" stroke="#c0c0c0" stroke-width="1"/>
<line x1="870.3" x2="873.5999999999999" y1="164.7" y2="164.7" stroke="#c0c0c0" stroke-width="1"/>
<line x1="870.3" x2="873.5999999999999" y1="189.3" y2="189.3" stroke="#c0c0c0" stroke-width="1"/>
<line x1="870.3" x2="873.5999999999999" y1="214.2" y2="214.2" stroke="#c0c0c0" stroke-width="1"/>
<line x1="870.3" x2="873.5999999999999" y1="240.6" y2="240.6" stroke="#c0c0c0" stroke-width="1"/>
<line x1="870.3" x2="873.5999999999999" y1="269.3" y2="269.3" stroke="#c0c0c0" stroke-width="1"/>
<line x1="870.3" x2="873.5999999999999" y1="299.5" y2="299.5" stroke="#c0c0c0" stroke-width="1"/>
<line x1="870.3" x2="873.5999999999999" y1="330.7" y2="330.7" stroke="#c0c0c0" stroke-width="1"/>
<line x1="870.3" x2="873.5999999999999" y1="363.6" y2="363.6" stroke="#c0c0c0" stroke-width="1"/>
<text x="877.6" y="4.7" font-size="12" font-weight="normal" fill="#000" text-anchor="start" textLength="12.6" lengthAdjust="spacingAndGlyphs">10</text>
<path d="M867,195.3 L872.3,188.9 L940,188.9 L940,201.7 L872.3,201.7 Z" fill="#fff" stroke="#bf3348" stroke-width="1.4"/>
<text x="873.5" y="199.5" font-size="12" font-weight="normal" fill="#000" stroke="#000" stroke-width="0.25" text-anchor="start" textLength="59.4" lengthAdjust="spacingAndGlyphs">49202.20</text>
<path d="M867,255.15 L872.3,248.3 L940,248.3 L940,262 L872.3,262 Z" fill="#fff" stroke="#000" stroke-width="1.4"/>
<text x="873.5" y="259.35" font-size="12" font-weight="bold" fill="#000" text-anchor="start" textLength="59.6" lengthAdjust="spacingAndGlyphs">43633.26</text>
<path d="M867,292.5 L872.3,285.8 L940,285.8 L940,299.2 L872.3,299.2 Z" fill="#fff" stroke="#33339a" stroke-width="1.4"/>
<text x="873.5" y="296.7" font-size="12" font-weight="normal" fill="#000" stroke="#000" stroke-width="0.25" text-anchor="start" textLength="59.4" lengthAdjust="spacingAndGlyphs">40365.09</text>
<path d="M867.4,357.05 L872.3,350.3 L916.4,350.3 L916.4,363.8 L872.3,363.8 Z" fill="#fff" stroke="#000" stroke-width="1.4"/>
<text x="873.5" y="361.25" font-size="12" font-weight="normal" fill="#000" stroke="#000" stroke-width="0.25" text-anchor="start" textLength="39" lengthAdjust="spacingAndGlyphs">38727</text>
<text x="10.6" y="294.1" font-size="12" font-weight="normal" fill="#000" stroke="#000" stroke-width="0.25" text-anchor="start" textLength="32.8" lengthAdjust="spacingAndGlyphs">100K</text>
<text x="2.6" y="321.4" font-size="12" font-weight="normal" fill="#000" stroke="#000" stroke-width="0.25" text-anchor="start" textLength="39.8" lengthAdjust="spacingAndGlyphs">75000</text>
<text x="2.6" y="348.7" font-size="12" font-weight="normal" fill="#000" stroke="#000" stroke-width="0.25" text-anchor="start" textLength="39.8" lengthAdjust="spacingAndGlyphs">50000</text>
<text x="2.6" y="375.7" font-size="12" font-weight="normal" fill="#000" stroke="#000" stroke-width="0.25" text-anchor="start" textLength="39.8" lengthAdjust="spacingAndGlyphs">25000</text>
<line x1="44.5" x2="47" y1="289.7" y2="289.7" stroke="#b9b9b9" stroke-width="1"/>
<line x1="44.5" x2="47" y1="317.7" y2="317.7" stroke="#b9b9b9" stroke-width="1"/>
<line x1="44.5" x2="47" y1="345" y2="345" stroke="#b9b9b9" stroke-width="1"/>
<line x1="44.5" x2="47" y1="371.9" y2="371.9" stroke="#b9b9b9" stroke-width="1"/>
<text x="86.7" y="415.9" font-size="12.6" font-weight="normal" text-anchor="middle" textLength="7.3" lengthAdjust="spacingAndGlyphs" stroke="#000" stroke-width="0.2">8</text>
<text x="278" y="415.9" font-size="12.6" font-weight="normal" text-anchor="middle" textLength="7.3" lengthAdjust="spacingAndGlyphs" stroke="#000" stroke-width="0.2">6</text>
<text x="134.3" y="415.9" font-size="12.6" font-weight="normal" text-anchor="middle" textLength="15" lengthAdjust="spacingAndGlyphs" stroke="#000" stroke-width="0.2">15</text>
<text x="181.6" y="415.9" font-size="12.6" font-weight="normal" text-anchor="middle" textLength="15" lengthAdjust="spacingAndGlyphs" stroke="#000" stroke-width="0.2">22</text>
<text x="325.3" y="415.9" font-size="12.6" font-weight="normal" text-anchor="middle" textLength="15" lengthAdjust="spacingAndGlyphs" stroke="#000" stroke-width="0.2">13</text>
<text x="373" y="415.9" font-size="12.6" font-weight="normal" text-anchor="middle" textLength="15" lengthAdjust="spacingAndGlyphs" stroke="#000" stroke-width="0.2">20</text>
<text x="420.7" y="415.9" font-size="12.6" font-weight="normal" text-anchor="middle" textLength="15" lengthAdjust="spacingAndGlyphs" stroke="#000" stroke-width="0.2">27</text>
<text x="517.7" y="415.9" font-size="12.6" font-weight="normal" text-anchor="middle" textLength="15" lengthAdjust="spacingAndGlyphs" stroke="#000" stroke-width="0.2">10</text>
<text x="565.3" y="415.9" font-size="12.6" font-weight="normal" text-anchor="middle" textLength="15" lengthAdjust="spacingAndGlyphs" stroke="#000" stroke-width="0.2">17</text>
<text x="613" y="415.9" font-size="12.6" font-weight="normal" text-anchor="middle" textLength="15" lengthAdjust="spacingAndGlyphs" stroke="#000" stroke-width="0.2">24</text>
<text x="758.1" y="415.9" font-size="12.6" font-weight="normal" text-anchor="middle" textLength="15" lengthAdjust="spacingAndGlyphs" stroke="#000" stroke-width="0.2">14</text>
<text x="804.1" y="415.9" font-size="12.6" font-weight="normal" text-anchor="middle" textLength="15" lengthAdjust="spacingAndGlyphs" stroke="#000" stroke-width="0.2">21</text>
<text x="708.8" y="415.9" font-size="12.6" font-weight="normal" text-anchor="middle" textLength="7.3" lengthAdjust="spacingAndGlyphs" stroke="#000" stroke-width="0.2">7</text>
<text x="244.0" y="415.9" font-size="14.2" font-weight="bold" text-anchor="middle" textLength="27" lengthAdjust="spacingAndGlyphs">Dec</text>
<text x="455.3" y="415.9" font-size="14.2" font-weight="bold" text-anchor="middle" textLength="32.3" lengthAdjust="spacingAndGlyphs">2022</text>
<text x="668.5" y="415.9" font-size="14.2" font-weight="bold" text-anchor="middle" textLength="26.4" lengthAdjust="spacingAndGlyphs">Feb</text>
<text x="860.8" y="415.9" font-size="14.2" font-weight="bold" text-anchor="middle" textLength="27.4" lengthAdjust="spacingAndGlyphs">Mar</text>
<rect x="48" y="38.5" width="118.5" height="14.5" fill="#fff"/>
<rect x="48" y="53" width="126" height="14.5" fill="#fff"/>
<rect x="48" y="67.5" width="104.5" height="15" fill="#fff"/>
<g transform="translate(0,-0.8)" stroke="#000" stroke-width="1.2" fill="#000"><line x1="52.3" x2="52.3" y1="26.5" y2="36.5"/><rect x="50.8" y="28" width="3" height="5.5"/><line x1="56.6" x2="56.6" y1="28.5" y2="37"/><rect x="55.1" y="30" width="3" height="5.5" fill="#fff"/><line x1="60.6" x2="60.6" y1="26.5" y2="36"/><rect x="59.2" y="28" width="2.8" height="6.5"/></g>
<text x="68.3" y="35.6" font-size="12.7" font-weight="normal" fill="#111" stroke="#111" stroke-width="0.2" text-anchor="start" textLength="67.5" lengthAdjust="spacingAndGlyphs">$BTCUSD</text>
<text x="144.7" y="35.6" font-size="12.7" font-weight="normal" fill="#111" stroke="#111" stroke-width="0.2" text-anchor="start" textLength="47.7" lengthAdjust="spacingAndGlyphs">(Daily)</text>
<text x="200.3" y="35.6" font-size="12.7" font-weight="normal" fill="#111" stroke="#111" stroke-width="0.2" text-anchor="start" textLength="70.3" lengthAdjust="spacingAndGlyphs">43633.26</text>
<line x1="50.5" x2="62" y1="46.1" y2="46.1" stroke="#2a2a96" stroke-width="2.5"/>
<text x="65" y="50.7" font-size="12.3" font-weight="normal" fill="#2a2a96" stroke="#2a2a96" stroke-width="0.3" text-anchor="start" textLength="100" lengthAdjust="spacingAndGlyphs">MA(50) 40365.09</text>
<line x1="50.5" x2="62" y1="60.5" y2="60.5" stroke="#b52a40" stroke-width="2.5"/>
<text x="65" y="65.0" font-size="12.3" font-weight="normal" fill="#b52a40" stroke="#b52a40" stroke-width="0.3" text-anchor="start" textLength="107.5" lengthAdjust="spacingAndGlyphs">MA(200) 49202.20</text>
<g fill="#8a8a8a" stroke="#4a4a4a" stroke-width="0.9"><rect x="50.8" y="72.8" width="2.7" height="5.6"/><rect x="53.5" y="69.2" width="2.7" height="9.2"/><rect x="56.2" y="71.3" width="2.7" height="7.1"/><rect x="58.9" y="70.3" width="2.7" height="8.1"/></g>
<text x="65" y="79.4" font-size="12.3" font-weight="normal" fill="#444" text-anchor="start" textLength="86" lengthAdjust="spacingAndGlyphs">Volume 38,727</text>
</svg>
</body></html>
